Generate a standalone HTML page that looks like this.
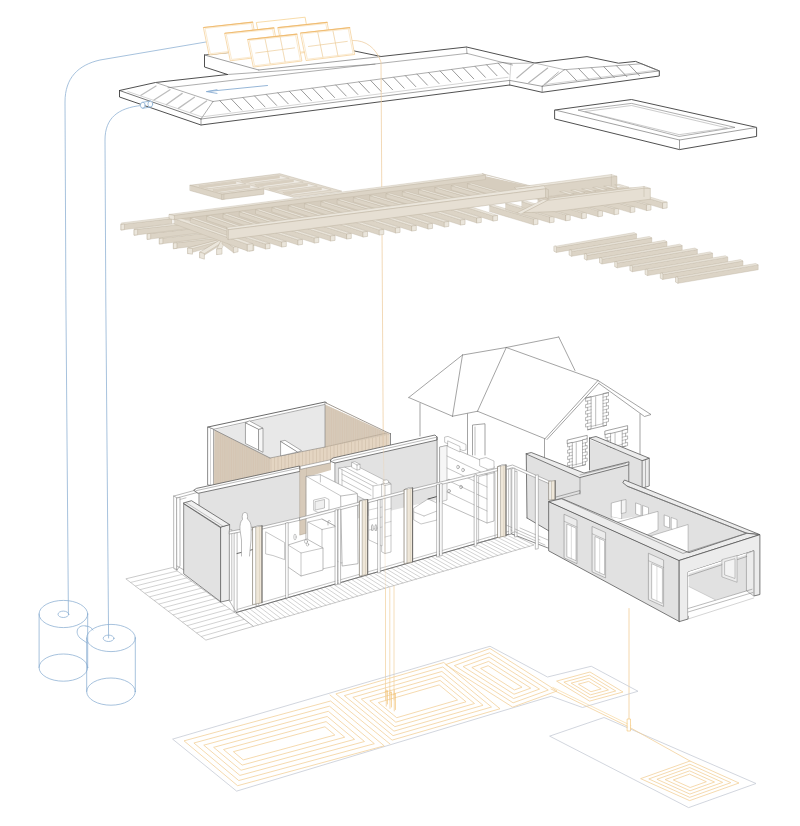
<!DOCTYPE html>
<html><head><meta charset="utf-8"><title>Exploded axonometric</title>
<style>html,body{margin:0;padding:0;background:#fff;}body{width:800px;height:826px;overflow:hidden;font-family:"Liberation Sans",sans-serif;}svg{display:block;position:absolute;left:0;top:0}</style>
</head><body>
<svg width="800" height="826" viewBox="0 0 800 826" stroke-linecap="round" stroke-linejoin="round">
<rect width="800" height="826" fill="#fff"/>
<path d="M68.4,614 L65.9,300 L65,102 C65,78 78,65 100,60 L206,42" fill="none" stroke="#8aaed2" stroke-width="0.75" />
<path d="M108.6,638 L105.8,300 L105,140 C105,118 118,108 141,105.5" fill="none" stroke="#8aaed2" stroke-width="0.75" />
<ellipse cx="63.4" cy="614" rx="24.3" ry="13.6" fill="none" stroke="#8aaed2" stroke-width="0.75"/>
<ellipse cx="63.4" cy="667.6" rx="24.3" ry="13.6" fill="none" stroke="#8aaed2" stroke-width="0.75"/>
<line x1="39.1" y1="614" x2="39.1" y2="667.6" stroke="#8aaed2" stroke-width="0.75" />
<line x1="87.7" y1="614" x2="87.7" y2="667.6" stroke="#8aaed2" stroke-width="0.75" />
<ellipse cx="63.4" cy="614.3" rx="5.4" ry="3.2" fill="none" stroke="#8aaed2" stroke-width="0.75"/>
<path d="M86,626 C78,624 74,632 80,638 L87,643" fill="none" stroke="#8aaed2" stroke-width="0.75" />
<path d="M86,626 C89,626 92,628 93,630" fill="none" stroke="#8aaed2" stroke-width="0.75" />
<ellipse cx="111" cy="638" rx="24.3" ry="13.6" fill="none" stroke="#8aaed2" stroke-width="0.75"/>
<ellipse cx="111" cy="691.6" rx="24.3" ry="13.6" fill="none" stroke="#8aaed2" stroke-width="0.75"/>
<line x1="86.7" y1="638" x2="86.7" y2="691.6" stroke="#8aaed2" stroke-width="0.75" />
<line x1="135.3" y1="638" x2="135.3" y2="691.6" stroke="#8aaed2" stroke-width="0.75" />
<ellipse cx="108.6" cy="638.3" rx="5.4" ry="3.2" fill="none" stroke="#8aaed2" stroke-width="0.75"/>
<polygon points="119.5,90.5 155.5,82.5 227.5,74.5 204.5,67 204.5,55 355,50 381,56 466.5,47 534.6,63 587,56.6 618.5,63.2 635.6,61.4 659.3,70.9 659.3,76 542.2,92.3 509.7,85 201,125 119.5,97" fill="#fff" stroke="none" stroke-width="0" />
<polyline points="352,50.5 381,56.5 466.5,47 534.6,63" fill="none" stroke="#3c3c3c" stroke-width="0.9" />
<polyline points="227.5,74.5 204.5,67 204.5,55" fill="none" stroke="#3c3c3c" stroke-width="0.9" />
<line x1="204.5" y1="55" x2="228" y2="52.6" stroke="#3c3c3c" stroke-width="0.8" />
<line x1="204.5" y1="55" x2="258.75" y2="70" stroke="#777" stroke-width="0.7" />
<line x1="258.75" y1="70" x2="381" y2="56.6" stroke="#777" stroke-width="0.7" />
<line x1="466.5" y1="47" x2="467" y2="53.4" stroke="#777" stroke-width="0.6" />
<line x1="467" y1="53.4" x2="512.5" y2="65" stroke="#777" stroke-width="0.6" />
<line x1="227.5" y1="74.5" x2="375" y2="64.2" stroke="#777" stroke-width="0.6" />
<polyline points="119.5,90.5 155.5,82.5 227.5,74.5" fill="none" stroke="#3c3c3c" stroke-width="0.9" />
<polyline points="119.5,90.5 119.5,97 201,125 509.7,85" fill="none" stroke="#3c3c3c" stroke-width="0.9" />
<line x1="119.5" y1="90.5" x2="201" y2="119" stroke="#3c3c3c" stroke-width="0.7" />
<line x1="201" y1="119" x2="201" y2="125" stroke="#777" stroke-width="0.7" />
<line x1="201" y1="119" x2="509.7" y2="80.4" stroke="#777" stroke-width="0.7" />
<polyline points="509.7,85 542.2,92.3 659.3,76 659.3,70.9 635.6,61.4 618.5,63.2 587,56.6 534.6,63" fill="none" stroke="#3c3c3c" stroke-width="0.9" />
<line x1="509.7" y1="80.4" x2="509.7" y2="85" stroke="#777" stroke-width="0.7" />
<line x1="542.2" y1="86.3" x2="542.2" y2="92.3" stroke="#777" stroke-width="0.7" />
<line x1="509.7" y1="80.4" x2="542.2" y2="86.3" stroke="#777" stroke-width="0.7" />
<line x1="542.2" y1="86.3" x2="659.3" y2="70.9" stroke="#777" stroke-width="0.7" />
<line x1="201" y1="119" x2="213" y2="101.5" stroke="#777" stroke-width="0.6" />
<line x1="213" y1="101.5" x2="155.5" y2="82.5" stroke="#777" stroke-width="0.6" />
<line x1="127.8" y1="91.5" x2="201.9" y2="116.9" stroke="#aaa" stroke-width="0.5" />
<line x1="213" y1="101.5" x2="503" y2="62.5" stroke="#777" stroke-width="0.6" />
<line x1="201.9" y1="116.9" x2="508" y2="77.3" stroke="#aaa" stroke-width="0.5" />
<line x1="168" y1="87.75" x2="467" y2="53.4" stroke="#777" stroke-width="0.6" />
<line x1="219.7" y1="100.6" x2="230.2" y2="111.6" stroke="#8e8e8e" stroke-width="0.9" />
<line x1="231.3" y1="99.04" x2="241.8" y2="110.04" stroke="#8e8e8e" stroke-width="0.9" />
<line x1="242.9" y1="97.48" x2="253.4" y2="108.48" stroke="#8e8e8e" stroke-width="0.9" />
<line x1="254.5" y1="95.92" x2="265" y2="106.92" stroke="#8e8e8e" stroke-width="0.9" />
<line x1="266.1" y1="94.36" x2="276.6" y2="105.36" stroke="#8e8e8e" stroke-width="0.9" />
<line x1="277.7" y1="92.8" x2="288.2" y2="103.8" stroke="#8e8e8e" stroke-width="0.9" />
<line x1="289.3" y1="91.24" x2="299.8" y2="102.24" stroke="#8e8e8e" stroke-width="0.9" />
<line x1="300.9" y1="89.68" x2="311.4" y2="100.68" stroke="#8e8e8e" stroke-width="0.9" />
<line x1="312.5" y1="88.12" x2="323" y2="99.12" stroke="#8e8e8e" stroke-width="0.9" />
<line x1="324.1" y1="86.56" x2="334.6" y2="97.56" stroke="#8e8e8e" stroke-width="0.9" />
<line x1="335.7" y1="85" x2="346.2" y2="96" stroke="#8e8e8e" stroke-width="0.9" />
<line x1="347.3" y1="83.44" x2="357.8" y2="94.44" stroke="#8e8e8e" stroke-width="0.9" />
<line x1="358.9" y1="81.88" x2="369.4" y2="92.88" stroke="#8e8e8e" stroke-width="0.9" />
<line x1="370.5" y1="80.32" x2="381" y2="91.32" stroke="#8e8e8e" stroke-width="0.9" />
<line x1="382.1" y1="78.76" x2="392.6" y2="89.76" stroke="#8e8e8e" stroke-width="0.9" />
<line x1="393.7" y1="77.2" x2="404.2" y2="88.2" stroke="#8e8e8e" stroke-width="0.9" />
<line x1="405.3" y1="75.64" x2="415.8" y2="86.64" stroke="#8e8e8e" stroke-width="0.9" />
<line x1="416.9" y1="74.08" x2="427.4" y2="85.08" stroke="#8e8e8e" stroke-width="0.9" />
<line x1="428.5" y1="72.52" x2="439" y2="83.52" stroke="#8e8e8e" stroke-width="0.9" />
<line x1="440.1" y1="70.96" x2="450.6" y2="81.96" stroke="#8e8e8e" stroke-width="0.9" />
<line x1="451.7" y1="69.4" x2="462.2" y2="80.4" stroke="#8e8e8e" stroke-width="0.9" />
<line x1="463.3" y1="67.84" x2="473.8" y2="78.84" stroke="#8e8e8e" stroke-width="0.9" />
<line x1="474.9" y1="66.28" x2="485.4" y2="77.28" stroke="#8e8e8e" stroke-width="0.9" />
<line x1="486.5" y1="64.72" x2="497" y2="75.72" stroke="#8e8e8e" stroke-width="0.9" />
<line x1="498.1" y1="63.16" x2="508.6" y2="74.16" stroke="#8e8e8e" stroke-width="0.9" />
<line x1="141" y1="95.3" x2="156" y2="86" stroke="#bdbdbd" stroke-width="1.3" />
<line x1="154" y1="100" x2="170" y2="89.7" stroke="#bdbdbd" stroke-width="1.3" />
<line x1="166.25" y1="104.7" x2="182.2" y2="93.4" stroke="#bdbdbd" stroke-width="1.3" />
<line x1="178.4" y1="108.4" x2="194.4" y2="97.2" stroke="#bdbdbd" stroke-width="1.3" />
<line x1="190.6" y1="112.2" x2="206.6" y2="101" stroke="#bdbdbd" stroke-width="1.3" />
<ellipse cx="142.8" cy="105.25" rx="2.4" ry="3" fill="#fff" stroke="#8aaed2" stroke-width="0.8"/>
<ellipse cx="150.3" cy="104.1" rx="2.4" ry="3" fill="#fff" stroke="#8aaed2" stroke-width="0.8"/>
<line x1="142.8" y1="102.25" x2="150.3" y2="101.1" stroke="#8aaed2" stroke-width="0.8" />
<line x1="142.8" y1="108.25" x2="150.3" y2="107.1" stroke="#8aaed2" stroke-width="0.8" />
<line x1="503" y1="62.5" x2="511" y2="63.4" stroke="#777" stroke-width="0.6" />
<line x1="511" y1="63.4" x2="534.6" y2="63" stroke="#777" stroke-width="0.5" />
<line x1="534.6" y1="63" x2="564.3" y2="69.7" stroke="#777" stroke-width="0.5" />
<line x1="564.3" y1="69.7" x2="542.2" y2="86.3" stroke="#777" stroke-width="0.6" />
<line x1="534.6" y1="63" x2="516.8" y2="78" stroke="#b5b5b5" stroke-width="1.1" />
<line x1="547.7" y1="68" x2="528.7" y2="82.75" stroke="#b5b5b5" stroke-width="1.1" />
<line x1="558.4" y1="72" x2="544" y2="84.5" stroke="#b5b5b5" stroke-width="1.0" />
<line x1="511" y1="63.4" x2="509.7" y2="80.4" stroke="#aaa" stroke-width="0.5" />
<line x1="564.3" y1="69.7" x2="641.5" y2="63.75" stroke="#777" stroke-width="0.6" />
<line x1="641.5" y1="63.75" x2="659.3" y2="70.9" stroke="#777" stroke-width="0.6" />
<line x1="545" y1="84.5" x2="657" y2="70" stroke="#aaa" stroke-width="0.5" />
<line x1="566" y1="69.57" x2="576.5" y2="80.57" stroke="#8e8e8e" stroke-width="0.9" />
<line x1="578.6" y1="68.6" x2="589.1" y2="79.6" stroke="#8e8e8e" stroke-width="0.9" />
<line x1="591.2" y1="67.63" x2="601.7" y2="78.63" stroke="#8e8e8e" stroke-width="0.9" />
<line x1="603.8" y1="66.66" x2="614.3" y2="77.66" stroke="#8e8e8e" stroke-width="0.9" />
<line x1="616.4" y1="65.68" x2="626.9" y2="76.68" stroke="#8e8e8e" stroke-width="0.9" />
<line x1="629" y1="64.71" x2="639.5" y2="75.71" stroke="#8e8e8e" stroke-width="0.9" />
<line x1="267.5" y1="85.5" x2="206.6" y2="91.6" stroke="#8aaed2" stroke-width="0.9" />
<polyline points="217,89.7 206.6,91.6 217,93.4" fill="none" stroke="#8aaed2" stroke-width="0.9" />
<polygon points="555,110 631.5,99.5 756.6,127.4 756.6,136.4 679.5,149.6 555,119" fill="#fff" stroke="#3c3c3c" stroke-width="0.9" />
<polyline points="555,110 679.5,140 756.6,127.4" fill="none" stroke="#777" stroke-width="0.7" />
<line x1="679.5" y1="140" x2="679.5" y2="149.6" stroke="#777" stroke-width="0.7" />
<polygon points="578.4,110 631.5,103.4 735,127.4 679.5,136.4" fill="none" stroke="#777" stroke-width="0.6" />
<polygon points="585,111.5 631.5,105.5 727.5,128 679.5,134.6" fill="none" stroke="#aaa" stroke-width="0.6" />
<polyline points="262,49 256.25,22.5 305.1,17.2 306.5,25" fill="none" stroke="#f6d394" stroke-width="0.8" />
<polygon points="203.75,27.5 252.65,22.2 257.65,49 209.45,55" fill="#fff" stroke="#f5d29c" stroke-width="0.8" />
<line x1="203.75" y1="27.5" x2="252.65" y2="22.2" stroke="#f0bd74" stroke-width="1.2" />
<polygon points="205.38,28.37 251.34,23.5 256.04,48.15 210.74,53.67" fill="none" stroke="#f7dcb0" stroke-width="0.6" />
<polygon points="278.2,27.6 327.1,22.3 332.1,49.1 283.9,55.1" fill="#fff" stroke="#f5d29c" stroke-width="0.8" />
<line x1="278.2" y1="27.6" x2="327.1" y2="22.3" stroke="#f0bd74" stroke-width="1.2" />
<polygon points="279.83,28.47 325.79,23.6 330.49,48.25 285.19,53.77" fill="none" stroke="#f7dcb0" stroke-width="0.6" />
<polygon points="225,33.25 273.9,27.95 278.9,54.75 230.7,60.75" fill="#fff" stroke="#f5d29c" stroke-width="0.8" />
<line x1="225" y1="33.25" x2="273.9" y2="27.95" stroke="#f0bd74" stroke-width="1.2" />
<polygon points="226.63,34.12 272.59,29.25 277.29,53.9 231.99,59.42" fill="none" stroke="#f7dcb0" stroke-width="0.6" />
<polygon points="248,39.5 296.9,34.2 301.9,61 253.7,67" fill="#fff" stroke="#f5d29c" stroke-width="0.8" />
<line x1="248" y1="39.5" x2="296.9" y2="34.2" stroke="#f0bd74" stroke-width="1.2" />
<polygon points="249.63,40.37 295.59,35.5 300.29,60.15 254.99,65.67" fill="none" stroke="#f7dcb0" stroke-width="0.6" />
<line x1="265.06" y1="39" x2="270.14" y2="63.54" stroke="#eccb98" stroke-width="0.7" />
<line x1="280.22" y1="37.41" x2="285.08" y2="61.74" stroke="#eccb98" stroke-width="0.7" />
<line x1="255.71" y1="52.97" x2="294.54" y2="47.88" stroke="#eccb98" stroke-width="0.7" />
<polygon points="300.75,33 349.65,27.7 354.65,54.5 306.45,60.5" fill="#fff" stroke="#f5d29c" stroke-width="0.8" />
<line x1="300.75" y1="33" x2="349.65" y2="27.7" stroke="#f0bd74" stroke-width="1.2" />
<polygon points="302.38,33.87 348.34,29 353.04,53.65 307.74,59.17" fill="none" stroke="#f7dcb0" stroke-width="0.6" />
<line x1="317.81" y1="32.5" x2="322.89" y2="57.04" stroke="#eccb98" stroke-width="0.7" />
<line x1="332.97" y1="30.91" x2="337.83" y2="55.24" stroke="#eccb98" stroke-width="0.7" />
<line x1="308.46" y1="46.47" x2="347.29" y2="41.38" stroke="#eccb98" stroke-width="0.7" />
<path d="M352.5,40.5 C366,40 376,48 381,62 L383.2,432" fill="none" stroke="#efcfa4" stroke-width="0.8" />
<polygon points="190.25,185.25 279.75,173.7 341.75,191.17 293.75,197.36 263.75,188.91 222.25,194.26" fill="#e4ddd1" stroke="#bfb5a3" stroke-width="0.5" />
<polygon points="190.25,185.25 222.25,194.26 222.25,199.56 190.25,190.55" fill="#dcd4c6" stroke="#bfb5a3" stroke-width="0.5" />
<polygon points="222.25,194.26 263.75,188.91 263.75,194.21 222.25,199.56" fill="#ddd5c7" stroke="#bfb5a3" stroke-width="0.5" />
<line x1="223.85" y1="194.46" x2="223.85" y2="199.56" stroke="#bfb5a3" stroke-width="0.5" />
<polygon points="199.25,185.94 236.25,181.16 245.75,183.84 208.75,188.61" fill="#efebe4" stroke="#bfb5a3" stroke-width="0.4" />
<polygon points="199.25,185.94 236.25,181.16 236.25,183.76 200.25,188.54" fill="#d8cfc0" stroke="none" stroke-width="0" />
<polygon points="199.25,185.94 200.75,186.24 210.25,188.61 208.75,188.61" fill="#dcd4c6" stroke="none" stroke-width="0" />
<polygon points="213.25,189.88 250.25,185.11 259.25,187.64 222.25,192.42" fill="#efebe4" stroke="#bfb5a3" stroke-width="0.4" />
<polygon points="213.25,189.88 250.25,185.11 250.25,187.71 214.25,192.48" fill="#d8cfc0" stroke="none" stroke-width="0" />
<polygon points="213.25,189.88 214.75,190.18 223.75,192.42 222.25,192.42" fill="#dcd4c6" stroke="none" stroke-width="0" />
<polygon points="241.25,180.52 279.75,175.55 289.25,178.23 250.75,183.2" fill="#efebe4" stroke="#bfb5a3" stroke-width="0.4" />
<polygon points="241.25,180.52 279.75,175.55 279.75,178.15 242.25,183.12" fill="#d8cfc0" stroke="none" stroke-width="0" />
<polygon points="241.25,180.52 242.75,180.82 252.25,183.2 250.75,183.2" fill="#dcd4c6" stroke="none" stroke-width="0" />
<polygon points="255.25,184.46 293.75,179.5 303.25,182.17 264.75,187.14" fill="#efebe4" stroke="#bfb5a3" stroke-width="0.4" />
<polygon points="255.25,184.46 293.75,179.5 293.75,182.1 256.25,187.06" fill="#d8cfc0" stroke="none" stroke-width="0" />
<polygon points="255.25,184.46 256.75,184.76 266.25,187.14 264.75,187.14" fill="#dcd4c6" stroke="none" stroke-width="0" />
<polygon points="269.25,188.41 307.75,183.44 317.25,186.12 278.75,191.08" fill="#efebe4" stroke="#bfb5a3" stroke-width="0.4" />
<polygon points="269.25,188.41 307.75,183.44 307.75,186.04 270.25,191.01" fill="#d8cfc0" stroke="none" stroke-width="0" />
<polygon points="269.25,188.41 270.75,188.71 280.25,191.08 278.75,191.08" fill="#dcd4c6" stroke="none" stroke-width="0" />
<polygon points="283.25,192.35 321.75,187.38 331.25,190.06 292.75,195.03" fill="#efebe4" stroke="#bfb5a3" stroke-width="0.4" />
<polygon points="283.25,192.35 321.75,187.38 321.75,189.98 284.25,194.95" fill="#d8cfc0" stroke="none" stroke-width="0" />
<polygon points="283.25,192.35 284.75,192.65 294.25,195.03 292.75,195.03" fill="#dcd4c6" stroke="none" stroke-width="0" />
<polygon points="170,216 482.5,175.5 546,190 229,231" fill="#d6cdbe" stroke="none" stroke-width="0" />
<polygon points="209.5,233.2 249.5,246 249.5,251 209.5,238.2" fill="#dcd4c6" stroke="#bfb5a3" stroke-width="0.4" />
<polygon points="209.5,233.2 249.5,246 253.8,245.4 213.8,232.6" fill="#ebe6dc" stroke="#bfb5a3" stroke-width="0.4" />
<polygon points="249.5,246 253.8,245.4 253.8,250.4 249.5,251" fill="#ebe6dc" stroke="#bfb5a3" stroke-width="0.5" />
<polygon points="225.75,231.2 265.75,244 265.75,249 225.75,236.2" fill="#dcd4c6" stroke="#bfb5a3" stroke-width="0.4" />
<polygon points="225.75,231.2 265.75,244 270.05,243.4 230.05,230.6" fill="#ebe6dc" stroke="#bfb5a3" stroke-width="0.4" />
<polygon points="265.75,244 270.05,243.4 270.05,248.4 265.75,249" fill="#ebe6dc" stroke="#bfb5a3" stroke-width="0.5" />
<polygon points="242,229.2 282,242 282,247 242,234.2" fill="#dcd4c6" stroke="#bfb5a3" stroke-width="0.4" />
<polygon points="242,229.2 282,242 286.3,241.4 246.3,228.6" fill="#ebe6dc" stroke="#bfb5a3" stroke-width="0.4" />
<polygon points="282,242 286.3,241.4 286.3,246.4 282,247" fill="#ebe6dc" stroke="#bfb5a3" stroke-width="0.5" />
<polygon points="258.25,227.2 298.25,240 298.25,245 258.25,232.2" fill="#dcd4c6" stroke="#bfb5a3" stroke-width="0.4" />
<polygon points="258.25,227.2 298.25,240 302.55,239.4 262.55,226.6" fill="#ebe6dc" stroke="#bfb5a3" stroke-width="0.4" />
<polygon points="298.25,240 302.55,239.4 302.55,244.4 298.25,245" fill="#ebe6dc" stroke="#bfb5a3" stroke-width="0.5" />
<polygon points="274.5,225.2 314.5,238 314.5,243 274.5,230.2" fill="#dcd4c6" stroke="#bfb5a3" stroke-width="0.4" />
<polygon points="274.5,225.2 314.5,238 318.8,237.4 278.8,224.6" fill="#ebe6dc" stroke="#bfb5a3" stroke-width="0.4" />
<polygon points="314.5,238 318.8,237.4 318.8,242.4 314.5,243" fill="#ebe6dc" stroke="#bfb5a3" stroke-width="0.5" />
<polygon points="290.75,223.2 330.75,236 330.75,241 290.75,228.2" fill="#dcd4c6" stroke="#bfb5a3" stroke-width="0.4" />
<polygon points="290.75,223.2 330.75,236 335.05,235.4 295.05,222.6" fill="#ebe6dc" stroke="#bfb5a3" stroke-width="0.4" />
<polygon points="330.75,236 335.05,235.4 335.05,240.4 330.75,241" fill="#ebe6dc" stroke="#bfb5a3" stroke-width="0.5" />
<polygon points="307,221.2 347,234 347,239 307,226.2" fill="#dcd4c6" stroke="#bfb5a3" stroke-width="0.4" />
<polygon points="307,221.2 347,234 351.3,233.4 311.3,220.6" fill="#ebe6dc" stroke="#bfb5a3" stroke-width="0.4" />
<polygon points="347,234 351.3,233.4 351.3,238.4 347,239" fill="#ebe6dc" stroke="#bfb5a3" stroke-width="0.5" />
<polygon points="323.25,219.2 363.25,232 363.25,237 323.25,224.2" fill="#dcd4c6" stroke="#bfb5a3" stroke-width="0.4" />
<polygon points="323.25,219.2 363.25,232 367.55,231.4 327.55,218.6" fill="#ebe6dc" stroke="#bfb5a3" stroke-width="0.4" />
<polygon points="363.25,232 367.55,231.4 367.55,236.4 363.25,237" fill="#ebe6dc" stroke="#bfb5a3" stroke-width="0.5" />
<polygon points="339.5,217.2 379.5,230 379.5,235 339.5,222.2" fill="#dcd4c6" stroke="#bfb5a3" stroke-width="0.4" />
<polygon points="339.5,217.2 379.5,230 383.8,229.4 343.8,216.6" fill="#ebe6dc" stroke="#bfb5a3" stroke-width="0.4" />
<polygon points="379.5,230 383.8,229.4 383.8,234.4 379.5,235" fill="#ebe6dc" stroke="#bfb5a3" stroke-width="0.5" />
<polygon points="355.75,215.2 395.75,228 395.75,233 355.75,220.2" fill="#dcd4c6" stroke="#bfb5a3" stroke-width="0.4" />
<polygon points="355.75,215.2 395.75,228 400.05,227.4 360.05,214.6" fill="#ebe6dc" stroke="#bfb5a3" stroke-width="0.4" />
<polygon points="395.75,228 400.05,227.4 400.05,232.4 395.75,233" fill="#ebe6dc" stroke="#bfb5a3" stroke-width="0.5" />
<polygon points="372,213.2 412,226 412,231 372,218.2" fill="#dcd4c6" stroke="#bfb5a3" stroke-width="0.4" />
<polygon points="372,213.2 412,226 416.3,225.4 376.3,212.6" fill="#ebe6dc" stroke="#bfb5a3" stroke-width="0.4" />
<polygon points="412,226 416.3,225.4 416.3,230.4 412,231" fill="#ebe6dc" stroke="#bfb5a3" stroke-width="0.5" />
<polygon points="388.25,211.2 428.25,224 428.25,229 388.25,216.2" fill="#dcd4c6" stroke="#bfb5a3" stroke-width="0.4" />
<polygon points="388.25,211.2 428.25,224 432.55,223.4 392.55,210.6" fill="#ebe6dc" stroke="#bfb5a3" stroke-width="0.4" />
<polygon points="428.25,224 432.55,223.4 432.55,228.4 428.25,229" fill="#ebe6dc" stroke="#bfb5a3" stroke-width="0.5" />
<polygon points="404.5,209.2 444.5,222 444.5,227 404.5,214.2" fill="#dcd4c6" stroke="#bfb5a3" stroke-width="0.4" />
<polygon points="404.5,209.2 444.5,222 448.8,221.4 408.8,208.6" fill="#ebe6dc" stroke="#bfb5a3" stroke-width="0.4" />
<polygon points="444.5,222 448.8,221.4 448.8,226.4 444.5,227" fill="#ebe6dc" stroke="#bfb5a3" stroke-width="0.5" />
<polygon points="420.75,207.2 460.75,220 460.75,225 420.75,212.2" fill="#dcd4c6" stroke="#bfb5a3" stroke-width="0.4" />
<polygon points="420.75,207.2 460.75,220 465.05,219.4 425.05,206.6" fill="#ebe6dc" stroke="#bfb5a3" stroke-width="0.4" />
<polygon points="460.75,220 465.05,219.4 465.05,224.4 460.75,225" fill="#ebe6dc" stroke="#bfb5a3" stroke-width="0.5" />
<polygon points="437,205.2 477,218 477,223 437,210.2" fill="#dcd4c6" stroke="#bfb5a3" stroke-width="0.4" />
<polygon points="437,205.2 477,218 481.3,217.4 441.3,204.6" fill="#ebe6dc" stroke="#bfb5a3" stroke-width="0.4" />
<polygon points="477,218 481.3,217.4 481.3,222.4 477,223" fill="#ebe6dc" stroke="#bfb5a3" stroke-width="0.5" />
<polygon points="453.25,203.2 493.25,216 493.25,221 453.25,208.2" fill="#dcd4c6" stroke="#bfb5a3" stroke-width="0.4" />
<polygon points="453.25,203.2 493.25,216 497.55,215.4 457.55,202.6" fill="#ebe6dc" stroke="#bfb5a3" stroke-width="0.4" />
<polygon points="493.25,216 497.55,215.4 497.55,220.4 493.25,221" fill="#ebe6dc" stroke="#bfb5a3" stroke-width="0.5" />
<polygon points="173.75,243.1 224,237.5 224,242.5 173.75,248.7" fill="#dcd4c6" stroke="#bfb5a3" stroke-width="0.4" />
<polygon points="173.75,243.1 224,237.5 222,236 174.25,241.6" fill="#ebe6dc" stroke="#bfb5a3" stroke-width="0.4" />
<polygon points="173.75,243.1 176.95,242.7 176.95,248.3 173.75,248.7" fill="#ebe6dc" stroke="#bfb5a3" stroke-width="0.5" />
<polygon points="159.7,238.4 215,232.2 215,237.2 159.7,244" fill="#dcd4c6" stroke="#bfb5a3" stroke-width="0.4" />
<polygon points="159.7,238.4 215,232.2 213,230.7 160.2,236.9" fill="#ebe6dc" stroke="#bfb5a3" stroke-width="0.4" />
<polygon points="159.7,238.4 162.9,238 162.9,243.6 159.7,244" fill="#ebe6dc" stroke="#bfb5a3" stroke-width="0.5" />
<polygon points="147.5,233.75 202,227.7 202,232.7 147.5,239.35" fill="#dcd4c6" stroke="#bfb5a3" stroke-width="0.4" />
<polygon points="147.5,233.75 202,227.7 200,226.2 148,232.25" fill="#ebe6dc" stroke="#bfb5a3" stroke-width="0.4" />
<polygon points="147.5,233.75 150.7,233.35 150.7,238.95 147.5,239.35" fill="#ebe6dc" stroke="#bfb5a3" stroke-width="0.5" />
<polygon points="134.4,229.6 190,223.4 190,228.4 134.4,235.2" fill="#dcd4c6" stroke="#bfb5a3" stroke-width="0.4" />
<polygon points="134.4,229.6 190,223.4 188,221.9 134.9,228.1" fill="#ebe6dc" stroke="#bfb5a3" stroke-width="0.4" />
<polygon points="134.4,229.6 137.6,229.2 137.6,234.8 134.4,235.2" fill="#ebe6dc" stroke="#bfb5a3" stroke-width="0.5" />
<polygon points="121.25,224.4 172,218.6 172,223.6 121.25,230" fill="#dcd4c6" stroke="#bfb5a3" stroke-width="0.4" />
<polygon points="121.25,224.4 172,218.6 170,217.1 121.75,222.9" fill="#ebe6dc" stroke="#bfb5a3" stroke-width="0.4" />
<polygon points="121.25,224.4 124.45,224 124.45,229.6 121.25,230" fill="#ebe6dc" stroke="#bfb5a3" stroke-width="0.5" />
<polygon points="188,248 222,239 222,244 188,253.6" fill="#dcd4c6" stroke="#bfb5a3" stroke-width="0.4" />
<polygon points="188,248 192.5,248.6 225.6,239.6 222,239" fill="#ebe6dc" stroke="#bfb5a3" stroke-width="0.4" />
<polygon points="188,248 192.5,248.6 192.5,254.2 188,253.6" fill="#ebe6dc" stroke="#bfb5a3" stroke-width="0.5" />
<polygon points="200,252.2 222,239 222,244 200,257.8" fill="#dcd4c6" stroke="#bfb5a3" stroke-width="0.4" />
<polygon points="200,252.2 204.4,253.6 225.52,240.4 222,239" fill="#ebe6dc" stroke="#bfb5a3" stroke-width="0.4" />
<polygon points="200,252.2 204.4,253.6 204.4,259.2 200,257.8" fill="#ebe6dc" stroke="#bfb5a3" stroke-width="0.5" />
<polygon points="217,249 222,239 222,244 217,254.6" fill="#dcd4c6" stroke="#bfb5a3" stroke-width="0.4" />
<polygon points="217,249 222,248.5 226,238.5 222,239" fill="#ebe6dc" stroke="#bfb5a3" stroke-width="0.4" />
<polygon points="217,249 222,248.5 222,254.1 217,254.6" fill="#ebe6dc" stroke="#bfb5a3" stroke-width="0.5" />
<polygon points="233.75,247.2 222,239 222,244 233.75,252.8" fill="#dcd4c6" stroke="#bfb5a3" stroke-width="0.4" />
<polygon points="233.75,247.2 238.05,246.2 225.44,238 222,239" fill="#ebe6dc" stroke="#bfb5a3" stroke-width="0.4" />
<polygon points="233.75,247.2 238.05,246.2 238.05,251.8 233.75,252.8" fill="#ebe6dc" stroke="#bfb5a3" stroke-width="0.5" />
<polygon points="174.4,218.75 247.5,244.4 247.5,251 174.4,224" fill="#dcd4c6" stroke="#bfb5a3" stroke-width="0.4" />
<polygon points="174.4,218.75 247.5,244.4 253,243.8 180,218" fill="#ebe6dc" stroke="#bfb5a3" stroke-width="0.4" />
<polygon points="247.5,244.4 253,243.8 253,250.6 247.5,251.2" fill="#ebe6dc" stroke="#bfb5a3" stroke-width="0.5" />
<polygon points="169.4,214.4 482.5,173.75 485.5,175.2 174.4,215.4" fill="#ebe6dc" stroke="#bfb5a3" stroke-width="0.4" />
<polygon points="174.4,215.4 485.5,175.2 485.5,179.5 174.4,219.6" fill="#dcd4c6" stroke="#bfb5a3" stroke-width="0.4" />
<polygon points="169.4,214.4 174.4,215.4 174.4,219.8 169.4,218.75" fill="#ebe6dc" stroke="#bfb5a3" stroke-width="0.5" />
<polygon points="190.7,218.3 228,231.33 228,235.63 190.7,222.6" fill="#dcd4c6" stroke="#bfb5a3" stroke-width="0.4" />
<polygon points="190.7,218.3 228,231.33 231.6,230.83 194.3,217.8" fill="#ebe6dc" stroke="#bfb5a3" stroke-width="0.4" />
<polygon points="207,216.15 238.35,226.95 238.35,231.25 207,220.45" fill="#dcd4c6" stroke="#bfb5a3" stroke-width="0.4" />
<polygon points="207,216.15 238.35,226.95 241.95,226.45 210.6,215.65" fill="#ebe6dc" stroke="#bfb5a3" stroke-width="0.4" />
<polygon points="223.3,214 255.08,224.79 255.08,229.09 223.3,218.3" fill="#dcd4c6" stroke="#bfb5a3" stroke-width="0.4" />
<polygon points="223.3,214 255.08,224.79 258.68,224.29 226.9,213.5" fill="#ebe6dc" stroke="#bfb5a3" stroke-width="0.4" />
<polygon points="239.6,211.85 271.81,222.63 271.81,226.93 239.6,216.15" fill="#dcd4c6" stroke="#bfb5a3" stroke-width="0.4" />
<polygon points="239.6,211.85 271.81,222.63 275.41,222.13 243.2,211.35" fill="#ebe6dc" stroke="#bfb5a3" stroke-width="0.4" />
<polygon points="255.9,209.7 288.56,220.47 288.56,224.77 255.9,214" fill="#dcd4c6" stroke="#bfb5a3" stroke-width="0.4" />
<polygon points="255.9,209.7 288.56,220.47 292.16,219.97 259.5,209.2" fill="#ebe6dc" stroke="#bfb5a3" stroke-width="0.4" />
<polygon points="272.2,207.7 304.98,218.35 304.98,222.65 272.2,212" fill="#dcd4c6" stroke="#bfb5a3" stroke-width="0.4" />
<polygon points="272.2,207.7 304.98,218.35 308.58,217.85 275.8,207.2" fill="#ebe6dc" stroke="#bfb5a3" stroke-width="0.4" />
<polygon points="288.5,205.7 321.41,216.23 321.41,220.53 288.5,210" fill="#dcd4c6" stroke="#bfb5a3" stroke-width="0.4" />
<polygon points="288.5,205.7 321.41,216.23 325.01,215.73 292.1,205.2" fill="#ebe6dc" stroke="#bfb5a3" stroke-width="0.4" />
<polygon points="304.8,203.7 337.84,214.11 337.84,218.41 304.8,208" fill="#dcd4c6" stroke="#bfb5a3" stroke-width="0.4" />
<polygon points="304.8,203.7 337.84,214.11 341.44,213.61 308.4,203.2" fill="#ebe6dc" stroke="#bfb5a3" stroke-width="0.4" />
<polygon points="321.1,201.7 354.28,211.99 354.28,216.29 321.1,206" fill="#dcd4c6" stroke="#bfb5a3" stroke-width="0.4" />
<polygon points="321.1,201.7 354.28,211.99 357.88,211.49 324.7,201.2" fill="#ebe6dc" stroke="#bfb5a3" stroke-width="0.4" />
<polygon points="337.4,199.7 370.71,209.87 370.71,214.17 337.4,204" fill="#dcd4c6" stroke="#bfb5a3" stroke-width="0.4" />
<polygon points="337.4,199.7 370.71,209.87 374.31,209.37 341,199.2" fill="#ebe6dc" stroke="#bfb5a3" stroke-width="0.4" />
<polygon points="353.7,197.7 387.16,207.75 387.16,212.05 353.7,202" fill="#dcd4c6" stroke="#bfb5a3" stroke-width="0.4" />
<polygon points="353.7,197.7 387.16,207.75 390.76,207.25 357.3,197.2" fill="#ebe6dc" stroke="#bfb5a3" stroke-width="0.4" />
<polygon points="370,195.7 403.6,205.63 403.6,209.93 370,200" fill="#dcd4c6" stroke="#bfb5a3" stroke-width="0.4" />
<polygon points="370,195.7 403.6,205.63 407.2,205.13 373.6,195.2" fill="#ebe6dc" stroke="#bfb5a3" stroke-width="0.4" />
<polygon points="386.3,193.7 420.05,203.51 420.05,207.81 386.3,198" fill="#dcd4c6" stroke="#bfb5a3" stroke-width="0.4" />
<polygon points="386.3,193.7 420.05,203.51 423.65,203.01 389.9,193.2" fill="#ebe6dc" stroke="#bfb5a3" stroke-width="0.4" />
<polygon points="402.6,191.7 436.15,201.43 436.15,205.73 402.6,196" fill="#dcd4c6" stroke="#bfb5a3" stroke-width="0.4" />
<polygon points="402.6,191.7 436.15,201.43 439.75,200.93 406.2,191.2" fill="#ebe6dc" stroke="#bfb5a3" stroke-width="0.4" />
<polygon points="418.9,189.7 452.21,199.36 452.21,203.66 418.9,194" fill="#dcd4c6" stroke="#bfb5a3" stroke-width="0.4" />
<polygon points="418.9,189.7 452.21,199.36 455.81,198.86 422.5,189.2" fill="#ebe6dc" stroke="#bfb5a3" stroke-width="0.4" />
<polygon points="435.2,187.7 468.26,197.29 468.26,201.59 435.2,192" fill="#dcd4c6" stroke="#bfb5a3" stroke-width="0.4" />
<polygon points="435.2,187.7 468.26,197.29 471.86,196.79 438.8,187.2" fill="#ebe6dc" stroke="#bfb5a3" stroke-width="0.4" />
<polygon points="451.5,185.7 484.32,195.22 484.32,199.52 451.5,190" fill="#dcd4c6" stroke="#bfb5a3" stroke-width="0.4" />
<polygon points="451.5,185.7 484.32,195.22 487.92,194.72 455.1,185.2" fill="#ebe6dc" stroke="#bfb5a3" stroke-width="0.4" />
<polygon points="467.8,183.7 500.37,193.15 500.37,197.45 467.8,188" fill="#dcd4c6" stroke="#bfb5a3" stroke-width="0.4" />
<polygon points="467.8,183.7 500.37,193.15 503.97,192.65 471.4,183.2" fill="#ebe6dc" stroke="#bfb5a3" stroke-width="0.4" />
<polygon points="482.5,173.75 486,175 548,190 544,190" fill="#ebe6dc" stroke="#bfb5a3" stroke-width="0.4" />
<polygon points="530,199 612,187 646,188 548,200" fill="#d6cdbe" stroke="none" stroke-width="0" />
<polygon points="514.6,187.5 611.4,174.5 617,176.3 517,189.3" fill="#ebe6dc" stroke="#bfb5a3" stroke-width="0.4" />
<polygon points="517,189.3 617,176.3 617,187.5 517,200.5" fill="#dcd4c6" stroke="#bfb5a3" stroke-width="0.4" />
<line x1="611.4" y1="174.5" x2="611.4" y2="186" stroke="#bfb5a3" stroke-width="0.4" />
<polygon points="560,191.5 564,191 574,194 570,194.5" fill="#ebe6dc" stroke="#bfb5a3" stroke-width="0.4" />
<polygon points="571,190.15 575,189.65 585,192.65 581,193.15" fill="#ebe6dc" stroke="#bfb5a3" stroke-width="0.4" />
<polygon points="582,188.8 586,188.3 596,191.3 592,191.8" fill="#ebe6dc" stroke="#bfb5a3" stroke-width="0.4" />
<polygon points="593,187.45 597,186.95 607,189.95 603,190.45" fill="#ebe6dc" stroke="#bfb5a3" stroke-width="0.4" />
<polygon points="604,186.1 608,185.6 618,188.6 614,189.1" fill="#ebe6dc" stroke="#bfb5a3" stroke-width="0.4" />
<polygon points="615,184.75 619,184.25 629,187.25 625,187.75" fill="#ebe6dc" stroke="#bfb5a3" stroke-width="0.4" />
<polygon points="489.75,205.8 533.75,219 533.75,224.8 489.75,211.6" fill="#dcd4c6" stroke="#bfb5a3" stroke-width="0.4" />
<polygon points="489.75,205.8 533.75,219 537.95,218.4 493.95,205.2" fill="#ebe6dc" stroke="#bfb5a3" stroke-width="0.4" />
<polygon points="533.75,219 537.95,218.4 537.95,224.2 533.75,224.8" fill="#ebe6dc" stroke="#bfb5a3" stroke-width="0.5" />
<polygon points="505.9,203.77 549.9,216.97 549.9,222.77 505.9,209.57" fill="#dcd4c6" stroke="#bfb5a3" stroke-width="0.4" />
<polygon points="505.9,203.77 549.9,216.97 554.1,216.37 510.1,203.17" fill="#ebe6dc" stroke="#bfb5a3" stroke-width="0.4" />
<polygon points="549.9,216.97 554.1,216.37 554.1,222.17 549.9,222.77" fill="#ebe6dc" stroke="#bfb5a3" stroke-width="0.5" />
<polygon points="522.05,201.74 566.05,214.94 566.05,220.74 522.05,207.54" fill="#dcd4c6" stroke="#bfb5a3" stroke-width="0.4" />
<polygon points="522.05,201.74 566.05,214.94 570.25,214.34 526.25,201.14" fill="#ebe6dc" stroke="#bfb5a3" stroke-width="0.4" />
<polygon points="566.05,214.94 570.25,214.34 570.25,220.14 566.05,220.74" fill="#ebe6dc" stroke="#bfb5a3" stroke-width="0.5" />
<polygon points="538.2,199.71 582.2,212.91 582.2,218.71 538.2,205.51" fill="#dcd4c6" stroke="#bfb5a3" stroke-width="0.4" />
<polygon points="538.2,199.71 582.2,212.91 586.4,212.31 542.4,199.11" fill="#ebe6dc" stroke="#bfb5a3" stroke-width="0.4" />
<polygon points="582.2,212.91 586.4,212.31 586.4,218.11 582.2,218.71" fill="#ebe6dc" stroke="#bfb5a3" stroke-width="0.5" />
<polygon points="554.35,197.68 598.35,210.88 598.35,216.68 554.35,203.48" fill="#dcd4c6" stroke="#bfb5a3" stroke-width="0.4" />
<polygon points="554.35,197.68 598.35,210.88 602.55,210.28 558.55,197.08" fill="#ebe6dc" stroke="#bfb5a3" stroke-width="0.4" />
<polygon points="598.35,210.88 602.55,210.28 602.55,216.08 598.35,216.68" fill="#ebe6dc" stroke="#bfb5a3" stroke-width="0.5" />
<polygon points="570.5,195.65 614.5,208.85 614.5,214.65 570.5,201.45" fill="#dcd4c6" stroke="#bfb5a3" stroke-width="0.4" />
<polygon points="570.5,195.65 614.5,208.85 618.7,208.25 574.7,195.05" fill="#ebe6dc" stroke="#bfb5a3" stroke-width="0.4" />
<polygon points="614.5,208.85 618.7,208.25 618.7,214.05 614.5,214.65" fill="#ebe6dc" stroke="#bfb5a3" stroke-width="0.5" />
<polygon points="586.65,193.62 630.65,206.82 630.65,212.62 586.65,199.42" fill="#dcd4c6" stroke="#bfb5a3" stroke-width="0.4" />
<polygon points="586.65,193.62 630.65,206.82 634.85,206.22 590.85,193.02" fill="#ebe6dc" stroke="#bfb5a3" stroke-width="0.4" />
<polygon points="630.65,206.82 634.85,206.22 634.85,212.02 630.65,212.62" fill="#ebe6dc" stroke="#bfb5a3" stroke-width="0.5" />
<polygon points="616.8,195.79 646.8,204.79 646.8,210.59 616.8,201.59" fill="#dcd4c6" stroke="#bfb5a3" stroke-width="0.4" />
<polygon points="616.8,195.79 646.8,204.79 651,204.19 621,195.19" fill="#ebe6dc" stroke="#bfb5a3" stroke-width="0.4" />
<polygon points="646.8,204.79 651,204.19 651,209.99 646.8,210.59" fill="#ebe6dc" stroke="#bfb5a3" stroke-width="0.5" />
<polygon points="632.95,193.76 662.95,202.76 662.95,208.56 632.95,199.56" fill="#dcd4c6" stroke="#bfb5a3" stroke-width="0.4" />
<polygon points="632.95,193.76 662.95,202.76 667.15,202.16 637.15,193.16" fill="#ebe6dc" stroke="#bfb5a3" stroke-width="0.4" />
<polygon points="662.95,202.76 667.15,202.16 667.15,207.96 662.95,208.56" fill="#ebe6dc" stroke="#bfb5a3" stroke-width="0.5" />
<polygon points="517,213 521,214 548,200.5 544,199.5" fill="#ebe6dc" stroke="#bfb5a3" stroke-width="0.4" />
<polygon points="547.25,198.75 644,186.4 650.3,188.4 553,201" fill="#ebe6dc" stroke="#bfb5a3" stroke-width="0.4" />
<polygon points="524,212.5 547.25,200.5 644,188.2 650.3,188.4 650.3,199.2 556,211.5" fill="#e6dfd3" stroke="#bfb5a3" stroke-width="0.5" />
<line x1="644" y1="186.4" x2="644" y2="196.5" stroke="#bfb5a3" stroke-width="0.5" />
<polygon points="226.5,227.5 544,185.8 546,188.75 228.25,229.75" fill="#ebe6dc" stroke="#bfb5a3" stroke-width="0.4" />
<polygon points="228.25,229.75 546,188.75 546,197.5 228.25,239.5" fill="#e6dfd3" stroke="#bfb5a3" stroke-width="0.5" />
<polygon points="227,228.5 228.25,229.75 228.25,239.5 227,238.3" fill="#dcd4c6" stroke="#bfb5a3" stroke-width="0.4" />
<polygon points="546,188.75 548.4,189.6 548.4,198.6 546,197.5" fill="#dcd4c6" stroke="#bfb5a3" stroke-width="0.5" />
<polygon points="556.5,247.6 636.6,234 636.6,238.8 556.5,252.4" fill="#dcd4c6" stroke="#bfb5a3" stroke-width="0.4" />
<polygon points="556.5,247.6 636.6,234 634.1,232.6 556,246.2" fill="#ebe6dc" stroke="#bfb5a3" stroke-width="0.4" />
<polygon points="556,246.2 556.5,247.6 556.5,252.4 553.9,251.2 553.9,246.6" fill="#ebe6dc" stroke="#bfb5a3" stroke-width="0.5" />
<polygon points="571.7,251.46 651.8,237.86 651.8,242.66 571.7,256.26" fill="#dcd4c6" stroke="#bfb5a3" stroke-width="0.4" />
<polygon points="571.7,251.46 651.8,237.86 649.3,236.46 571.2,250.06" fill="#ebe6dc" stroke="#bfb5a3" stroke-width="0.4" />
<polygon points="571.2,250.06 571.7,251.46 571.7,256.26 569.1,255.06 569.1,250.46" fill="#ebe6dc" stroke="#bfb5a3" stroke-width="0.5" />
<polygon points="586.9,255.32 667,241.72 667,246.52 586.9,260.12" fill="#dcd4c6" stroke="#bfb5a3" stroke-width="0.4" />
<polygon points="586.9,255.32 667,241.72 664.5,240.32 586.4,253.92" fill="#ebe6dc" stroke="#bfb5a3" stroke-width="0.4" />
<polygon points="586.4,253.92 586.9,255.32 586.9,260.12 584.3,258.92 584.3,254.32" fill="#ebe6dc" stroke="#bfb5a3" stroke-width="0.5" />
<polygon points="602.1,259.18 682.2,245.58 682.2,250.38 602.1,263.98" fill="#dcd4c6" stroke="#bfb5a3" stroke-width="0.4" />
<polygon points="602.1,259.18 682.2,245.58 679.7,244.18 601.6,257.78" fill="#ebe6dc" stroke="#bfb5a3" stroke-width="0.4" />
<polygon points="601.6,257.78 602.1,259.18 602.1,263.98 599.5,262.78 599.5,258.18" fill="#ebe6dc" stroke="#bfb5a3" stroke-width="0.5" />
<polygon points="617.3,263.04 697.4,249.44 697.4,254.24 617.3,267.84" fill="#dcd4c6" stroke="#bfb5a3" stroke-width="0.4" />
<polygon points="617.3,263.04 697.4,249.44 694.9,248.04 616.8,261.64" fill="#ebe6dc" stroke="#bfb5a3" stroke-width="0.4" />
<polygon points="616.8,261.64 617.3,263.04 617.3,267.84 614.7,266.64 614.7,262.04" fill="#ebe6dc" stroke="#bfb5a3" stroke-width="0.5" />
<polygon points="632.5,266.9 712.6,253.3 712.6,258.1 632.5,271.7" fill="#dcd4c6" stroke="#bfb5a3" stroke-width="0.4" />
<polygon points="632.5,266.9 712.6,253.3 710.1,251.9 632,265.5" fill="#ebe6dc" stroke="#bfb5a3" stroke-width="0.4" />
<polygon points="632,265.5 632.5,266.9 632.5,271.7 629.9,270.5 629.9,265.9" fill="#ebe6dc" stroke="#bfb5a3" stroke-width="0.5" />
<polygon points="647.7,270.76 727.8,257.16 727.8,261.96 647.7,275.56" fill="#dcd4c6" stroke="#bfb5a3" stroke-width="0.4" />
<polygon points="647.7,270.76 727.8,257.16 725.3,255.76 647.2,269.36" fill="#ebe6dc" stroke="#bfb5a3" stroke-width="0.4" />
<polygon points="647.2,269.36 647.7,270.76 647.7,275.56 645.1,274.36 645.1,269.76" fill="#ebe6dc" stroke="#bfb5a3" stroke-width="0.5" />
<polygon points="662.9,274.62 743,261.02 743,265.82 662.9,279.42" fill="#dcd4c6" stroke="#bfb5a3" stroke-width="0.4" />
<polygon points="662.9,274.62 743,261.02 740.5,259.62 662.4,273.22" fill="#ebe6dc" stroke="#bfb5a3" stroke-width="0.4" />
<polygon points="662.4,273.22 662.9,274.62 662.9,279.42 660.3,278.22 660.3,273.62" fill="#ebe6dc" stroke="#bfb5a3" stroke-width="0.5" />
<polygon points="678.1,278.48 758.2,264.88 758.2,269.68 678.1,283.28" fill="#dcd4c6" stroke="#bfb5a3" stroke-width="0.4" />
<polygon points="678.1,278.48 758.2,264.88 755.7,263.48 677.6,277.08" fill="#ebe6dc" stroke="#bfb5a3" stroke-width="0.4" />
<polygon points="677.6,277.08 678.1,278.48 678.1,283.28 675.5,282.08 675.5,277.48" fill="#ebe6dc" stroke="#bfb5a3" stroke-width="0.5" />
<line x1="408.75" y1="397.5" x2="462.5" y2="355" stroke="#7c7c7c" stroke-width="0.7" />
<line x1="462.5" y1="355" x2="506.25" y2="347.5" stroke="#7c7c7c" stroke-width="0.7" />
<line x1="506.25" y1="347.5" x2="558.75" y2="337" stroke="#7c7c7c" stroke-width="0.7" />
<line x1="558.75" y1="337" x2="575" y2="370.5" stroke="#7c7c7c" stroke-width="0.7" />
<line x1="506.25" y1="347.5" x2="598" y2="380.5" stroke="#7c7c7c" stroke-width="0.7" />
<line x1="462.5" y1="355" x2="452.5" y2="416.25" stroke="#7c7c7c" stroke-width="0.7" />
<line x1="408.75" y1="397.5" x2="452.5" y2="416.25" stroke="#7c7c7c" stroke-width="0.7" />
<line x1="452.5" y1="416.25" x2="477.5" y2="411.25" stroke="#7c7c7c" stroke-width="0.7" />
<line x1="506.25" y1="347.5" x2="477.5" y2="411.25" stroke="#7c7c7c" stroke-width="0.7" />
<line x1="477.5" y1="411.25" x2="545" y2="438.75" stroke="#7c7c7c" stroke-width="0.7" />
<line x1="545" y1="438.75" x2="598" y2="380.5" stroke="#7c7c7c" stroke-width="0.7" />
<line x1="547" y1="439.5" x2="599" y2="383" stroke="#7c7c7c" stroke-width="0.7" />
<polyline points="598,380.5 651,414.5 644.5,416.5 599,383.5" fill="none" stroke="#7c7c7c" stroke-width="0.7" />
<line x1="640" y1="414" x2="640" y2="456" stroke="#7c7c7c" stroke-width="0.7" />
<line x1="420" y1="403.5" x2="420" y2="436" stroke="#7c7c7c" stroke-width="0.7" />
<line x1="467.5" y1="413.75" x2="467.5" y2="455" stroke="#7c7c7c" stroke-width="0.7" />
<polyline points="472.5,455 472.5,425 485,423.75 485,455" fill="none" stroke="#7c7c7c" stroke-width="0.7" />
<line x1="475" y1="455" x2="475" y2="427" stroke="#7c7c7c" stroke-width="0.5" />
<line x1="544.5" y1="439.25" x2="544.5" y2="458" stroke="#7c7c7c" stroke-width="0.7" />
<polygon points="585.6,398.2 585.6,401.41 587.66,400.92 587.66,404.13 585.6,404.62 585.6,407.83 587.66,407.34 587.66,410.55 585.6,411.04 585.6,414.25 587.66,413.76 587.66,416.97 585.6,417.46 585.6,420.67 587.66,420.18 587.66,423.39 585.6,423.88 585.6,427.09 587.66,426.6 587.66,429.81 591.1,428.98 591.1,396.88" fill="#fff" stroke="#7c7c7c" stroke-width="0.55" />
<line x1="587.66" y1="400.92" x2="591.1" y2="400.09" stroke="#7c7c7c" stroke-width="0.45" />
<line x1="587.66" y1="404.13" x2="591.1" y2="403.3" stroke="#7c7c7c" stroke-width="0.45" />
<line x1="587.66" y1="407.34" x2="591.1" y2="406.51" stroke="#7c7c7c" stroke-width="0.45" />
<line x1="587.66" y1="410.55" x2="591.1" y2="409.72" stroke="#7c7c7c" stroke-width="0.45" />
<line x1="587.66" y1="413.76" x2="591.1" y2="412.93" stroke="#7c7c7c" stroke-width="0.45" />
<line x1="587.66" y1="416.97" x2="591.1" y2="416.14" stroke="#7c7c7c" stroke-width="0.45" />
<line x1="587.66" y1="420.18" x2="591.1" y2="419.35" stroke="#7c7c7c" stroke-width="0.45" />
<line x1="587.66" y1="423.39" x2="591.1" y2="422.56" stroke="#7c7c7c" stroke-width="0.45" />
<line x1="587.66" y1="426.6" x2="591.1" y2="425.77" stroke="#7c7c7c" stroke-width="0.45" />
<polygon points="608.5,392.7 608.5,395.91 606.44,396.41 606.44,399.62 608.5,399.12 608.5,402.33 606.44,402.83 606.44,406.04 608.5,405.54 608.5,408.75 606.44,409.25 606.44,412.46 608.5,411.96 608.5,415.17 606.44,415.67 606.44,418.88 608.5,418.38 608.5,421.59 606.44,422.09 606.44,425.3 603,426.12 603,394.02" fill="#fff" stroke="#7c7c7c" stroke-width="0.55" />
<line x1="606.44" y1="396.41" x2="603" y2="397.23" stroke="#7c7c7c" stroke-width="0.45" />
<line x1="606.44" y1="399.62" x2="603" y2="400.44" stroke="#7c7c7c" stroke-width="0.45" />
<line x1="606.44" y1="402.83" x2="603" y2="403.65" stroke="#7c7c7c" stroke-width="0.45" />
<line x1="606.44" y1="406.04" x2="603" y2="406.86" stroke="#7c7c7c" stroke-width="0.45" />
<line x1="606.44" y1="409.25" x2="603" y2="410.07" stroke="#7c7c7c" stroke-width="0.45" />
<line x1="606.44" y1="412.46" x2="603" y2="413.28" stroke="#7c7c7c" stroke-width="0.45" />
<line x1="606.44" y1="415.67" x2="603" y2="416.49" stroke="#7c7c7c" stroke-width="0.45" />
<line x1="606.44" y1="418.88" x2="603" y2="419.7" stroke="#7c7c7c" stroke-width="0.45" />
<line x1="606.44" y1="422.09" x2="603" y2="422.91" stroke="#7c7c7c" stroke-width="0.45" />
<line x1="585.6" y1="398.2" x2="608.5" y2="392.7" stroke="#7c7c7c" stroke-width="0.7" />
<line x1="587.66" y1="429.81" x2="606.44" y2="425.3" stroke="#7c7c7c" stroke-width="0.7" />
<line x1="595.68" y1="396.78" x2="595.68" y2="425.88" stroke="#7c7c7c" stroke-width="0.5" />
<line x1="591.1" y1="426.48" x2="603" y2="423.62" stroke="#7c7c7c" stroke-width="0.45" />
<polygon points="567.6,440 587.2,435.3 587.2,439.1 567.6,443.8" fill="#fff" stroke="#7c7c7c" stroke-width="0.7" />
<polygon points="567.6,443.8 567.6,446.95 569.36,446.53 569.36,449.68 567.6,450.1 567.6,453.25 569.36,452.83 569.36,455.98 567.6,456.4 567.6,459.55 569.36,459.13 569.36,462.28 567.6,462.7 567.6,465.85 569.36,465.43 569.36,468.58 572.3,467.87 572.3,442.67" fill="#fff" stroke="#7c7c7c" stroke-width="0.55" />
<line x1="569.36" y1="446.53" x2="572.3" y2="445.82" stroke="#7c7c7c" stroke-width="0.45" />
<line x1="569.36" y1="449.68" x2="572.3" y2="448.97" stroke="#7c7c7c" stroke-width="0.45" />
<line x1="569.36" y1="452.83" x2="572.3" y2="452.12" stroke="#7c7c7c" stroke-width="0.45" />
<line x1="569.36" y1="455.98" x2="572.3" y2="455.27" stroke="#7c7c7c" stroke-width="0.45" />
<line x1="569.36" y1="459.13" x2="572.3" y2="458.42" stroke="#7c7c7c" stroke-width="0.45" />
<line x1="569.36" y1="462.28" x2="572.3" y2="461.57" stroke="#7c7c7c" stroke-width="0.45" />
<line x1="569.36" y1="465.43" x2="572.3" y2="464.72" stroke="#7c7c7c" stroke-width="0.45" />
<polygon points="587.2,439.1 587.2,442.25 585.44,442.67 585.44,445.82 587.2,445.4 587.2,448.55 585.44,448.97 585.44,452.12 587.2,451.7 587.2,454.85 585.44,455.27 585.44,458.42 587.2,458 587.2,461.15 585.44,461.57 585.44,464.72 582.5,465.42 582.5,440.22" fill="#fff" stroke="#7c7c7c" stroke-width="0.55" />
<line x1="585.44" y1="442.67" x2="582.5" y2="443.37" stroke="#7c7c7c" stroke-width="0.45" />
<line x1="585.44" y1="445.82" x2="582.5" y2="446.52" stroke="#7c7c7c" stroke-width="0.45" />
<line x1="585.44" y1="448.97" x2="582.5" y2="449.67" stroke="#7c7c7c" stroke-width="0.45" />
<line x1="585.44" y1="452.12" x2="582.5" y2="452.82" stroke="#7c7c7c" stroke-width="0.45" />
<line x1="585.44" y1="455.27" x2="582.5" y2="455.97" stroke="#7c7c7c" stroke-width="0.45" />
<line x1="585.44" y1="458.42" x2="582.5" y2="459.12" stroke="#7c7c7c" stroke-width="0.45" />
<line x1="585.44" y1="461.57" x2="582.5" y2="462.27" stroke="#7c7c7c" stroke-width="0.45" />
<line x1="569.36" y1="468.58" x2="585.44" y2="464.72" stroke="#7c7c7c" stroke-width="0.7" />
<line x1="576.22" y1="442.73" x2="576.22" y2="464.93" stroke="#7c7c7c" stroke-width="0.5" />
<line x1="572.3" y1="465.37" x2="582.5" y2="462.92" stroke="#7c7c7c" stroke-width="0.45" />
<polygon points="605.2,431 627.6,425.62 627.6,429.42 605.2,434.8" fill="#fff" stroke="#7c7c7c" stroke-width="0.7" />
<polygon points="605.2,434.8 605.2,438.04 607.22,437.56 607.22,440.8 605.2,441.28 605.2,444.52 607.22,444.04 607.22,447.28 605.2,447.76 605.2,451 610.58,449.71 610.58,433.51" fill="#fff" stroke="#7c7c7c" stroke-width="0.55" />
<line x1="607.22" y1="437.56" x2="610.58" y2="436.75" stroke="#7c7c7c" stroke-width="0.45" />
<line x1="607.22" y1="440.8" x2="610.58" y2="439.99" stroke="#7c7c7c" stroke-width="0.45" />
<line x1="607.22" y1="444.04" x2="610.58" y2="443.23" stroke="#7c7c7c" stroke-width="0.45" />
<line x1="607.22" y1="447.28" x2="610.58" y2="446.47" stroke="#7c7c7c" stroke-width="0.45" />
<polygon points="627.6,429.42 627.6,432.66 625.58,433.15 625.58,436.39 627.6,435.9 627.6,439.14 625.58,439.63 625.58,442.87 627.6,442.38 627.6,445.62 622.22,446.91 622.22,430.71" fill="#fff" stroke="#7c7c7c" stroke-width="0.55" />
<line x1="625.58" y1="433.15" x2="622.22" y2="433.95" stroke="#7c7c7c" stroke-width="0.45" />
<line x1="625.58" y1="436.39" x2="622.22" y2="437.19" stroke="#7c7c7c" stroke-width="0.45" />
<line x1="625.58" y1="439.63" x2="622.22" y2="440.43" stroke="#7c7c7c" stroke-width="0.45" />
<line x1="625.58" y1="442.87" x2="622.22" y2="443.67" stroke="#7c7c7c" stroke-width="0.45" />
<line x1="607.22" y1="450.52" x2="625.58" y2="446.11" stroke="#7c7c7c" stroke-width="0.7" />
<line x1="615.06" y1="433.43" x2="615.06" y2="446.63" stroke="#7c7c7c" stroke-width="0.5" />
<line x1="610.58" y1="447.21" x2="622.22" y2="444.41" stroke="#7c7c7c" stroke-width="0.45" />
<polygon points="208,427 213.75,429.25 213.75,486 208,485" fill="#fff" stroke="#5a5a5a" stroke-width="0.7" />
<line x1="210.5" y1="428" x2="210.5" y2="485.5" stroke="#aaa" stroke-width="0.5" />
<polygon points="214.5,430 325,404.5 325,447 270,458" fill="#e8e8e8" stroke="none" stroke-width="0" />
<polygon points="214.5,430 270,458 325,447 325,404.5 389.5,434 389.5,448 331,461 298,468.5 213.75,486" fill="#d7cab9" stroke="none" stroke-width="0" />
<polygon points="270,458 325,447 389.5,434.5 389.5,448 331,461 298,468.5 270,474" fill="#e4d5c2" stroke="none" stroke-width="0" />
<line x1="271" y1="458.3" x2="271" y2="473.8" stroke="#cfbea8" stroke-width="0.6" />
<line x1="274.5" y1="457.6" x2="274.5" y2="473.1" stroke="#cfbea8" stroke-width="0.6" />
<line x1="278" y1="456.9" x2="278" y2="472.4" stroke="#cfbea8" stroke-width="0.6" />
<line x1="281.5" y1="456.2" x2="281.5" y2="471.7" stroke="#cfbea8" stroke-width="0.6" />
<line x1="285" y1="455.5" x2="285" y2="471" stroke="#cfbea8" stroke-width="0.6" />
<line x1="288.5" y1="454.8" x2="288.5" y2="470.3" stroke="#cfbea8" stroke-width="0.6" />
<line x1="292" y1="454.1" x2="292" y2="469.6" stroke="#cfbea8" stroke-width="0.6" />
<line x1="295.5" y1="453.4" x2="295.5" y2="468.9" stroke="#cfbea8" stroke-width="0.6" />
<line x1="299" y1="452.7" x2="299" y2="468.27" stroke="#cfbea8" stroke-width="0.6" />
<line x1="302.5" y1="452" x2="302.5" y2="467.48" stroke="#cfbea8" stroke-width="0.6" />
<line x1="306" y1="451.3" x2="306" y2="466.68" stroke="#cfbea8" stroke-width="0.6" />
<line x1="309.5" y1="450.6" x2="309.5" y2="465.89" stroke="#cfbea8" stroke-width="0.6" />
<line x1="313" y1="449.9" x2="313" y2="465.1" stroke="#cfbea8" stroke-width="0.6" />
<line x1="316.5" y1="449.2" x2="316.5" y2="464.3" stroke="#cfbea8" stroke-width="0.6" />
<line x1="320" y1="448.5" x2="320" y2="463.51" stroke="#cfbea8" stroke-width="0.6" />
<line x1="323.5" y1="447.8" x2="323.5" y2="462.71" stroke="#cfbea8" stroke-width="0.6" />
<line x1="327" y1="447.11" x2="327" y2="461.92" stroke="#cfbea8" stroke-width="0.6" />
<line x1="330.5" y1="446.43" x2="330.5" y2="461.12" stroke="#cfbea8" stroke-width="0.6" />
<line x1="334" y1="445.75" x2="334" y2="460.33" stroke="#cfbea8" stroke-width="0.6" />
<line x1="337.5" y1="445.07" x2="337.5" y2="459.56" stroke="#cfbea8" stroke-width="0.6" />
<line x1="341" y1="444.4" x2="341" y2="458.78" stroke="#cfbea8" stroke-width="0.6" />
<line x1="344.5" y1="443.72" x2="344.5" y2="458" stroke="#cfbea8" stroke-width="0.6" />
<line x1="348" y1="443.04" x2="348" y2="457.23" stroke="#cfbea8" stroke-width="0.6" />
<line x1="351.5" y1="442.36" x2="351.5" y2="456.45" stroke="#cfbea8" stroke-width="0.6" />
<line x1="355" y1="441.68" x2="355" y2="455.67" stroke="#cfbea8" stroke-width="0.6" />
<line x1="358.5" y1="441" x2="358.5" y2="454.89" stroke="#cfbea8" stroke-width="0.6" />
<line x1="362" y1="440.32" x2="362" y2="454.12" stroke="#cfbea8" stroke-width="0.6" />
<line x1="365.5" y1="439.64" x2="365.5" y2="453.34" stroke="#cfbea8" stroke-width="0.6" />
<line x1="369" y1="438.96" x2="369" y2="452.56" stroke="#cfbea8" stroke-width="0.6" />
<line x1="372.5" y1="438.29" x2="372.5" y2="451.79" stroke="#cfbea8" stroke-width="0.6" />
<line x1="376" y1="437.61" x2="376" y2="451.01" stroke="#cfbea8" stroke-width="0.6" />
<line x1="379.5" y1="436.93" x2="379.5" y2="450.23" stroke="#cfbea8" stroke-width="0.6" />
<line x1="383" y1="436.25" x2="383" y2="449.46" stroke="#cfbea8" stroke-width="0.6" />
<line x1="386.5" y1="435.57" x2="386.5" y2="448.68" stroke="#cfbea8" stroke-width="0.6" />
<line x1="216" y1="431.26" x2="216" y2="485.53" stroke="#d1c0ab" stroke-width="0.4" />
<line x1="218.2" y1="432.36" x2="218.2" y2="485.07" stroke="#d1c0ab" stroke-width="0.4" />
<line x1="220.4" y1="433.47" x2="220.4" y2="484.6" stroke="#d1c0ab" stroke-width="0.4" />
<line x1="222.6" y1="434.58" x2="222.6" y2="484.14" stroke="#d1c0ab" stroke-width="0.4" />
<line x1="224.8" y1="435.69" x2="224.8" y2="483.68" stroke="#d1c0ab" stroke-width="0.4" />
<line x1="227" y1="436.8" x2="227" y2="483.22" stroke="#d1c0ab" stroke-width="0.4" />
<line x1="229.2" y1="437.91" x2="229.2" y2="482.76" stroke="#d1c0ab" stroke-width="0.4" />
<line x1="231.4" y1="439.02" x2="231.4" y2="482.29" stroke="#d1c0ab" stroke-width="0.4" />
<line x1="233.6" y1="440.13" x2="233.6" y2="481.83" stroke="#d1c0ab" stroke-width="0.4" />
<line x1="235.8" y1="441.24" x2="235.8" y2="481.37" stroke="#d1c0ab" stroke-width="0.4" />
<line x1="238" y1="442.34" x2="238" y2="480.91" stroke="#d1c0ab" stroke-width="0.4" />
<line x1="240.2" y1="443.45" x2="240.2" y2="480.45" stroke="#d1c0ab" stroke-width="0.4" />
<line x1="242.4" y1="444.56" x2="242.4" y2="479.98" stroke="#d1c0ab" stroke-width="0.4" />
<line x1="244.6" y1="445.67" x2="244.6" y2="479.52" stroke="#d1c0ab" stroke-width="0.4" />
<line x1="246.8" y1="446.78" x2="246.8" y2="479.06" stroke="#d1c0ab" stroke-width="0.4" />
<line x1="249" y1="447.89" x2="249" y2="478.6" stroke="#d1c0ab" stroke-width="0.4" />
<line x1="251.2" y1="449" x2="251.2" y2="478.14" stroke="#d1c0ab" stroke-width="0.4" />
<line x1="253.4" y1="450.11" x2="253.4" y2="477.67" stroke="#d1c0ab" stroke-width="0.4" />
<line x1="255.6" y1="451.21" x2="255.6" y2="477.21" stroke="#d1c0ab" stroke-width="0.4" />
<line x1="257.8" y1="452.32" x2="257.8" y2="476.75" stroke="#d1c0ab" stroke-width="0.4" />
<line x1="260" y1="453.43" x2="260" y2="476.29" stroke="#d1c0ab" stroke-width="0.4" />
<line x1="262.2" y1="454.54" x2="262.2" y2="475.83" stroke="#d1c0ab" stroke-width="0.4" />
<line x1="264.4" y1="455.65" x2="264.4" y2="475.36" stroke="#d1c0ab" stroke-width="0.4" />
<line x1="266.6" y1="456.76" x2="266.6" y2="474.9" stroke="#d1c0ab" stroke-width="0.4" />
<line x1="268.8" y1="457.87" x2="268.8" y2="474.44" stroke="#d1c0ab" stroke-width="0.4" />
<line x1="327" y1="405.91" x2="327" y2="446.61" stroke="#d1c0ab" stroke-width="0.4" />
<line x1="329.2" y1="406.92" x2="329.2" y2="446.19" stroke="#d1c0ab" stroke-width="0.4" />
<line x1="331.4" y1="407.92" x2="331.4" y2="445.76" stroke="#d1c0ab" stroke-width="0.4" />
<line x1="333.6" y1="408.93" x2="333.6" y2="445.33" stroke="#d1c0ab" stroke-width="0.4" />
<line x1="335.8" y1="409.94" x2="335.8" y2="444.9" stroke="#d1c0ab" stroke-width="0.4" />
<line x1="338" y1="410.94" x2="338" y2="444.48" stroke="#d1c0ab" stroke-width="0.4" />
<line x1="340.2" y1="411.95" x2="340.2" y2="444.05" stroke="#d1c0ab" stroke-width="0.4" />
<line x1="342.4" y1="412.95" x2="342.4" y2="443.62" stroke="#d1c0ab" stroke-width="0.4" />
<line x1="344.6" y1="413.96" x2="344.6" y2="443.2" stroke="#d1c0ab" stroke-width="0.4" />
<line x1="346.8" y1="414.96" x2="346.8" y2="442.77" stroke="#d1c0ab" stroke-width="0.4" />
<line x1="349" y1="415.97" x2="349" y2="442.34" stroke="#d1c0ab" stroke-width="0.4" />
<line x1="351.2" y1="416.97" x2="351.2" y2="441.92" stroke="#d1c0ab" stroke-width="0.4" />
<line x1="353.4" y1="417.98" x2="353.4" y2="441.49" stroke="#d1c0ab" stroke-width="0.4" />
<line x1="355.6" y1="418.98" x2="355.6" y2="441.06" stroke="#d1c0ab" stroke-width="0.4" />
<line x1="357.8" y1="419.99" x2="357.8" y2="440.64" stroke="#d1c0ab" stroke-width="0.4" />
<line x1="360" y1="420.99" x2="360" y2="440.21" stroke="#d1c0ab" stroke-width="0.4" />
<line x1="362.2" y1="422" x2="362.2" y2="439.78" stroke="#d1c0ab" stroke-width="0.4" />
<line x1="364.4" y1="423.01" x2="364.4" y2="439.36" stroke="#d1c0ab" stroke-width="0.4" />
<line x1="366.6" y1="424.01" x2="366.6" y2="438.93" stroke="#d1c0ab" stroke-width="0.4" />
<line x1="368.8" y1="425.02" x2="368.8" y2="438.5" stroke="#d1c0ab" stroke-width="0.4" />
<line x1="371" y1="426.02" x2="371" y2="438.08" stroke="#d1c0ab" stroke-width="0.4" />
<line x1="373.2" y1="427.03" x2="373.2" y2="437.65" stroke="#d1c0ab" stroke-width="0.4" />
<line x1="375.4" y1="428.03" x2="375.4" y2="437.22" stroke="#d1c0ab" stroke-width="0.4" />
<line x1="377.6" y1="429.04" x2="377.6" y2="436.8" stroke="#d1c0ab" stroke-width="0.4" />
<line x1="379.8" y1="430.04" x2="379.8" y2="436.37" stroke="#d1c0ab" stroke-width="0.4" />
<line x1="382" y1="431.05" x2="382" y2="435.94" stroke="#d1c0ab" stroke-width="0.4" />
<line x1="384.2" y1="432.05" x2="384.2" y2="435.52" stroke="#d1c0ab" stroke-width="0.4" />
<line x1="386.4" y1="433.06" x2="386.4" y2="435.09" stroke="#d1c0ab" stroke-width="0.4" />
<line x1="388.6" y1="434.07" x2="388.6" y2="434.66" stroke="#d1c0ab" stroke-width="0.4" />
<polyline points="208,427 325,402 326.5,402.8" fill="none" stroke="#5a5a5a" stroke-width="0.9" />
<polyline points="326.5,403.2 386.5,432 390.5,433.8" fill="none" stroke="#8a8177" stroke-width="0.8" />
<polyline points="213.75,429.25 324.5,404.5" fill="none" stroke="#777" stroke-width="0.6" />
<line x1="325" y1="402" x2="325" y2="447" stroke="#777" stroke-width="0.6" />
<line x1="214.5" y1="430" x2="270" y2="458" stroke="#777" stroke-width="0.7" />
<line x1="270" y1="458" x2="325" y2="447" stroke="#777" stroke-width="0.5" />
<line x1="325" y1="447" x2="386.5" y2="433" stroke="#a89a88" stroke-width="0.5" />
<line x1="390.5" y1="433.5" x2="390.5" y2="447.5" stroke="#5a5a5a" stroke-width="0.7" />
<polygon points="245.8,422.7 258.9,429.2 258.9,450.2 245.8,443.7" fill="#fff" stroke="#777" stroke-width="0.6" />
<polygon points="258.9,429.2 263,428.2 263,452.3 258.9,450.2" fill="#f6f6f6" stroke="#777" stroke-width="0.6" />
<polygon points="245.8,422.7 249.3,420.8 263,428.2 258.9,429.2" fill="#fff" stroke="#777" stroke-width="0.6" />
<polygon points="280.9,441.3 298,452 281,455.8" fill="#fff" stroke="#777" stroke-width="0.6" />
<polygon points="280.9,441.3 285,440.3 301.5,450.6 298,452" fill="#fff" stroke="#777" stroke-width="0.6" />
<polygon points="174,496 196,490 199,492 177,498" fill="#fff" stroke="#8a8a8a" stroke-width="0.6" />
<polygon points="174,496 177,498 177,570 174,568" fill="#fff" stroke="#8a8a8a" stroke-width="0.6" />
<polygon points="177,498 180,497.3 180,566 177,570" fill="#fff" stroke="#8a8a8a" stroke-width="0.6" />
<line x1="177" y1="566" x2="184" y2="570" stroke="#8a8a8a" stroke-width="0.6" />
<line x1="180" y1="499.5" x2="186" y2="497.8" stroke="#8a8a8a" stroke-width="0.5" />
<polygon points="198.4,493.25 300,471.4 300,519 262,528 229.6,533 198.4,512" fill="#e2e2e2" stroke="none" stroke-width="0" />
<polygon points="194,490.1 196.5,488.4 299.5,466 300,471.4 198.4,493.25" fill="#fff" stroke="#5a5a5a" stroke-width="0.8" />
<line x1="196" y1="490.7" x2="298.8" y2="468.2" stroke="#777" stroke-width="0.5" />
<line x1="199" y1="494" x2="199" y2="512" stroke="#777" stroke-width="0.6" />
<polygon points="300,468 307,466.6 307,533 300,535" fill="#d7cab9" stroke="#a89a86" stroke-width="0.5" />
<polygon points="307,466.6 331,461.5 331,470 307,477" fill="#d7cab9" stroke="none" stroke-width="0" />
<polygon points="300.5,466.3 330.5,459.8 330.5,462.8 300.5,469.3" fill="#fff" stroke="#777" stroke-width="0.5" />
<polygon points="334,463 436,439 436,500 334,524" fill="#e2e2e2" stroke="none" stroke-width="0" />
<polygon points="331,459.5 333,458 435,435 437,437 437,440 335,463 331,461.5" fill="#fff" stroke="#5a5a5a" stroke-width="0.8" />
<line x1="333" y1="460.5" x2="435.5" y2="437.5" stroke="#777" stroke-width="0.5" />
<line x1="437" y1="437" x2="437" y2="502" stroke="#5a5a5a" stroke-width="0.8" />
<line x1="335" y1="463" x2="335" y2="500" stroke="#777" stroke-width="0.5" />
<polygon points="339,468 356,465.6 390,483 390,500 373,504 339,486" fill="#fff" stroke="#8f8f8f" stroke-width="0.5" />
<polyline points="339,468 373,486 390,483" fill="none" stroke="#8f8f8f" stroke-width="0.5" />
<line x1="373" y1="486" x2="373" y2="504" stroke="#8f8f8f" stroke-width="0.5" />
<line x1="342" y1="469.3" x2="342" y2="486" stroke="#8f8f8f" stroke-width="0.5" />
<line x1="342" y1="474" x2="371" y2="489.5" stroke="#8f8f8f" stroke-width="0.5" />
<line x1="342" y1="480" x2="371" y2="495.5" stroke="#8f8f8f" stroke-width="0.5" />
<line x1="345" y1="467.2" x2="377" y2="484" stroke="#8f8f8f" stroke-width="0.5" />
<polygon points="352,462.3 355,461.7 360,464.3 360,469.5 357,470 352,467.5" fill="#fff" stroke="#8f8f8f" stroke-width="0.5" />
<line x1="352" y1="462.3" x2="357" y2="465" stroke="#8f8f8f" stroke-width="0.5" />
<line x1="357" y1="465" x2="357" y2="470" stroke="#8f8f8f" stroke-width="0.5" />
<line x1="357" y1="465" x2="360" y2="464.3" stroke="#8f8f8f" stroke-width="0.5" />
<polygon points="382,484 388,482.5 391,484 391,552 385,553.5 382,552" fill="#fff" stroke="#8f8f8f" stroke-width="0.5" />
<polyline points="382,484 385,485.5 391,484" fill="none" stroke="#8f8f8f" stroke-width="0.5" />
<line x1="385" y1="485.5" x2="385" y2="553.5" stroke="#8f8f8f" stroke-width="0.5" />
<polygon points="383.5,480.5 386.5,479.8 388.5,480.8 388.5,483 385.5,483.8 383.5,482.8" fill="#fff" stroke="#8f8f8f" stroke-width="0.5" />
<line x1="385" y1="497" x2="391" y2="495.5" stroke="#8f8f8f" stroke-width="0.4" />
<line x1="385" y1="510" x2="391" y2="508.5" stroke="#8f8f8f" stroke-width="0.4" />
<line x1="385" y1="523" x2="391" y2="521.5" stroke="#8f8f8f" stroke-width="0.4" />
<line x1="385" y1="537" x2="391" y2="535.5" stroke="#8f8f8f" stroke-width="0.4" />
<polygon points="369,502 382,499 382,546 369,540" fill="#fff" stroke="#8f8f8f" stroke-width="0.5" />
<line x1="369" y1="510" x2="382" y2="507" stroke="#8f8f8f" stroke-width="0.4" />
<line x1="369" y1="520" x2="382" y2="517" stroke="#8f8f8f" stroke-width="0.4" />
<line x1="369" y1="530" x2="382" y2="527" stroke="#8f8f8f" stroke-width="0.4" />
<path d="M371.5,530 l0,-4 l0.8,-1.5 l0.8,1.5 l0,4 z" fill="#fff" stroke="#777" stroke-width="0.5" />
<path d="M375,530 l0,-4 l0.8,-1.5 l0.8,1.5 l0,4 z" fill="#fff" stroke="#777" stroke-width="0.5" />
<polygon points="306.3,476.3 320.4,474.7 356.7,493 356.7,560 341,563 306.3,545" fill="#fff" stroke="#8f8f8f" stroke-width="0.6" />
<line x1="320.4" y1="474.7" x2="320.4" y2="482" stroke="#8f8f8f" stroke-width="0.5" />
<line x1="306.3" y1="476.3" x2="341" y2="496" stroke="#8f8f8f" stroke-width="0.5" />
<polygon points="314,500 325,497.5 329,499.5 329,510 318,512.5 314,510.5" fill="#fff" stroke="#8f8f8f" stroke-width="0.5" />
<polygon points="315.5,501.5 324.5,499.5 324.5,508 315.5,510" fill="#f0f0f0" stroke="#8f8f8f" stroke-width="0.5" />
<polygon points="308,522 322,519 336,526.5 336,566 322,569 308,562" fill="#fff" stroke="#8f8f8f" stroke-width="0.5" />
<line x1="322" y1="519" x2="336" y2="526.5" stroke="#8f8f8f" stroke-width="0.5" />
<line x1="308" y1="522" x2="322" y2="529.5" stroke="#8f8f8f" stroke-width="0.5" />
<line x1="322" y1="529.5" x2="336" y2="526.5" stroke="#8f8f8f" stroke-width="0.5" />
<line x1="322" y1="529.5" x2="322" y2="569" stroke="#8f8f8f" stroke-width="0.5" />
<path d="M328,525 l0,-4 q1.5,-1.5 2.5,0.5" fill="none" stroke="#8f8f8f" stroke-width="0.6" />
<polygon points="341,496 357.4,493.6 358,563.7 342.5,566" fill="#fff" stroke="#8f8f8f" stroke-width="0.6" />
<polygon points="288,545 307,539 323,548 323,570 301,576 288,567" fill="#fff" stroke="#8f8f8f" stroke-width="0.6" />
<polyline points="288,545 301,553 323,548" fill="none" stroke="#8f8f8f" stroke-width="0.5" />
<line x1="301" y1="553" x2="301" y2="576" stroke="#8f8f8f" stroke-width="0.5" />
<ellipse cx="295" cy="537" rx="1.2" ry="3" fill="none" stroke="#8f8f8f" stroke-width="0.5"/>
<ellipse cx="306" cy="541.5" rx="1.5" ry="2" fill="none" stroke="#8f8f8f" stroke-width="0.5"/>
<ellipse cx="307.5" cy="544.5" rx="1.2" ry="1.5" fill="none" stroke="#8f8f8f" stroke-width="0.5"/>
<polygon points="266,532 284.6,542.5 284.6,559.6 272.9,555.5 266,554" fill="#fff" stroke="#8f8f8f" stroke-width="0.5" />
<polygon points="414,508 428,499 437,503 437,520 421,524 414,520" fill="#fff" stroke="#8f8f8f" stroke-width="0.5" />
<line x1="414" y1="512" x2="424" y2="516" stroke="#8f8f8f" stroke-width="0.5" />
<line x1="424" y1="516" x2="437" y2="511" stroke="#8f8f8f" stroke-width="0.5" />
<line x1="428" y1="499" x2="437" y2="496.5" stroke="#444" stroke-width="0.9" />
<polygon points="440,447 447,445.5 494,466 494,521 487,523 440,502" fill="#fff" stroke="#8f8f8f" stroke-width="0.6" />
<polygon points="440,447 447,445.5 447,500 440,502" fill="#f6f6f6" stroke="#8f8f8f" stroke-width="0.5" />
<line x1="447" y1="456" x2="487" y2="475" stroke="#8f8f8f" stroke-width="0.5" />
<line x1="447" y1="468" x2="487" y2="487" stroke="#8f8f8f" stroke-width="0.5" />
<line x1="447" y1="480" x2="487" y2="499" stroke="#8f8f8f" stroke-width="0.5" />
<line x1="447" y1="492" x2="487" y2="511" stroke="#8f8f8f" stroke-width="0.5" />
<line x1="487" y1="465.5" x2="487" y2="523" stroke="#8f8f8f" stroke-width="0.5" />
<polygon points="445,437 448,436.4 466,444.5 466,450 463,450.6 445,442.5" fill="#fff" stroke="#8f8f8f" stroke-width="0.5" />
<polygon points="448,441 460,446.5 460,452 448,446.5" fill="#fff" stroke="#8f8f8f" stroke-width="0.5" />
<polygon points="480,459 486,457.5 494,461 494,468 488,469.5 480,466" fill="#fff" stroke="#8f8f8f" stroke-width="0.5" />
<ellipse cx="458" cy="467" rx="1.3" ry="1.8" fill="none" stroke="#777" stroke-width="0.5"/>
<ellipse cx="463" cy="470" rx="1.3" ry="1.8" fill="none" stroke="#777" stroke-width="0.5"/>
<ellipse cx="449" cy="481" rx="1.3" ry="1.8" fill="none" stroke="#777" stroke-width="0.5"/>
<ellipse cx="461" cy="487" rx="1.3" ry="1.8" fill="none" stroke="#777" stroke-width="0.5"/>
<ellipse cx="449" cy="491" rx="1.3" ry="1.8" fill="none" stroke="#777" stroke-width="0.5"/>
<polygon points="126.25,578.75 172.5,567.5 253.75,626.25 206.25,640" fill="#fff" stroke="#a6a6a6" stroke-width="0.6" />
<line x1="130.96" y1="582.35" x2="177.28" y2="570.96" stroke="#a6a6a6" stroke-width="0.5" />
<line x1="135.66" y1="585.96" x2="182.06" y2="574.41" stroke="#a6a6a6" stroke-width="0.5" />
<line x1="140.37" y1="589.56" x2="186.84" y2="577.87" stroke="#a6a6a6" stroke-width="0.5" />
<line x1="145.07" y1="593.16" x2="191.62" y2="581.32" stroke="#a6a6a6" stroke-width="0.5" />
<line x1="149.78" y1="596.76" x2="196.4" y2="584.78" stroke="#a6a6a6" stroke-width="0.5" />
<line x1="154.49" y1="600.37" x2="201.18" y2="588.24" stroke="#a6a6a6" stroke-width="0.5" />
<line x1="159.19" y1="603.97" x2="205.96" y2="591.69" stroke="#a6a6a6" stroke-width="0.5" />
<line x1="163.9" y1="607.57" x2="210.74" y2="595.15" stroke="#a6a6a6" stroke-width="0.5" />
<line x1="168.6" y1="611.18" x2="215.51" y2="598.6" stroke="#a6a6a6" stroke-width="0.5" />
<line x1="173.31" y1="614.78" x2="220.29" y2="602.06" stroke="#a6a6a6" stroke-width="0.5" />
<line x1="178.01" y1="618.38" x2="225.07" y2="605.51" stroke="#a6a6a6" stroke-width="0.5" />
<line x1="182.72" y1="621.99" x2="229.85" y2="608.97" stroke="#a6a6a6" stroke-width="0.5" />
<line x1="187.43" y1="625.59" x2="234.63" y2="612.43" stroke="#a6a6a6" stroke-width="0.5" />
<line x1="192.13" y1="629.19" x2="239.41" y2="615.88" stroke="#a6a6a6" stroke-width="0.5" />
<line x1="196.84" y1="632.79" x2="244.19" y2="619.34" stroke="#a6a6a6" stroke-width="0.5" />
<line x1="201.54" y1="636.4" x2="248.97" y2="622.79" stroke="#a6a6a6" stroke-width="0.5" />
<polygon points="236.25,612.5 511,533.6 534,545 253.75,626.25" fill="#fff" stroke="#a6a6a6" stroke-width="0.6" />
<line x1="240.68" y1="611.23" x2="258.27" y2="624.94" stroke="#a6a6a6" stroke-width="0.5" />
<line x1="245.11" y1="609.95" x2="262.79" y2="623.63" stroke="#a6a6a6" stroke-width="0.5" />
<line x1="249.54" y1="608.68" x2="267.31" y2="622.32" stroke="#a6a6a6" stroke-width="0.5" />
<line x1="253.98" y1="607.41" x2="271.83" y2="621.01" stroke="#a6a6a6" stroke-width="0.5" />
<line x1="258.41" y1="606.14" x2="276.35" y2="619.7" stroke="#a6a6a6" stroke-width="0.5" />
<line x1="262.84" y1="604.86" x2="280.87" y2="618.39" stroke="#a6a6a6" stroke-width="0.5" />
<line x1="267.27" y1="603.59" x2="285.39" y2="617.08" stroke="#a6a6a6" stroke-width="0.5" />
<line x1="271.7" y1="602.32" x2="289.91" y2="615.77" stroke="#a6a6a6" stroke-width="0.5" />
<line x1="276.13" y1="601.05" x2="294.43" y2="614.46" stroke="#a6a6a6" stroke-width="0.5" />
<line x1="280.56" y1="599.77" x2="298.95" y2="613.15" stroke="#a6a6a6" stroke-width="0.5" />
<line x1="285" y1="598.5" x2="303.47" y2="611.83" stroke="#a6a6a6" stroke-width="0.5" />
<line x1="289.43" y1="597.23" x2="307.99" y2="610.52" stroke="#a6a6a6" stroke-width="0.5" />
<line x1="293.86" y1="595.96" x2="312.51" y2="609.21" stroke="#a6a6a6" stroke-width="0.5" />
<line x1="298.29" y1="594.68" x2="317.03" y2="607.9" stroke="#a6a6a6" stroke-width="0.5" />
<line x1="302.72" y1="593.41" x2="321.55" y2="606.59" stroke="#a6a6a6" stroke-width="0.5" />
<line x1="307.15" y1="592.14" x2="326.07" y2="605.28" stroke="#a6a6a6" stroke-width="0.5" />
<line x1="311.58" y1="590.87" x2="330.59" y2="603.97" stroke="#a6a6a6" stroke-width="0.5" />
<line x1="316.02" y1="589.59" x2="335.11" y2="602.66" stroke="#a6a6a6" stroke-width="0.5" />
<line x1="320.45" y1="588.32" x2="339.63" y2="601.35" stroke="#a6a6a6" stroke-width="0.5" />
<line x1="324.88" y1="587.05" x2="344.15" y2="600.04" stroke="#a6a6a6" stroke-width="0.5" />
<line x1="329.31" y1="585.78" x2="348.67" y2="598.73" stroke="#a6a6a6" stroke-width="0.5" />
<line x1="333.74" y1="584.5" x2="353.19" y2="597.42" stroke="#a6a6a6" stroke-width="0.5" />
<line x1="338.17" y1="583.23" x2="357.71" y2="596.11" stroke="#a6a6a6" stroke-width="0.5" />
<line x1="342.6" y1="581.96" x2="362.23" y2="594.8" stroke="#a6a6a6" stroke-width="0.5" />
<line x1="347.04" y1="580.69" x2="366.75" y2="593.49" stroke="#a6a6a6" stroke-width="0.5" />
<line x1="351.47" y1="579.41" x2="371.27" y2="592.18" stroke="#a6a6a6" stroke-width="0.5" />
<line x1="355.9" y1="578.14" x2="375.79" y2="590.87" stroke="#a6a6a6" stroke-width="0.5" />
<line x1="360.33" y1="576.87" x2="380.31" y2="589.56" stroke="#a6a6a6" stroke-width="0.5" />
<line x1="364.76" y1="575.6" x2="384.83" y2="588.25" stroke="#a6a6a6" stroke-width="0.5" />
<line x1="369.19" y1="574.32" x2="389.35" y2="586.94" stroke="#a6a6a6" stroke-width="0.5" />
<line x1="373.62" y1="573.05" x2="393.88" y2="585.62" stroke="#a6a6a6" stroke-width="0.5" />
<line x1="378.06" y1="571.78" x2="398.4" y2="584.31" stroke="#a6a6a6" stroke-width="0.5" />
<line x1="382.49" y1="570.5" x2="402.92" y2="583" stroke="#a6a6a6" stroke-width="0.5" />
<line x1="386.92" y1="569.23" x2="407.44" y2="581.69" stroke="#a6a6a6" stroke-width="0.5" />
<line x1="391.35" y1="567.96" x2="411.96" y2="580.38" stroke="#a6a6a6" stroke-width="0.5" />
<line x1="395.78" y1="566.69" x2="416.48" y2="579.07" stroke="#a6a6a6" stroke-width="0.5" />
<line x1="400.21" y1="565.41" x2="421" y2="577.76" stroke="#a6a6a6" stroke-width="0.5" />
<line x1="404.65" y1="564.14" x2="425.52" y2="576.45" stroke="#a6a6a6" stroke-width="0.5" />
<line x1="409.08" y1="562.87" x2="430.04" y2="575.14" stroke="#a6a6a6" stroke-width="0.5" />
<line x1="413.51" y1="561.6" x2="434.56" y2="573.83" stroke="#a6a6a6" stroke-width="0.5" />
<line x1="417.94" y1="560.32" x2="439.08" y2="572.52" stroke="#a6a6a6" stroke-width="0.5" />
<line x1="422.37" y1="559.05" x2="443.6" y2="571.21" stroke="#a6a6a6" stroke-width="0.5" />
<line x1="426.8" y1="557.78" x2="448.12" y2="569.9" stroke="#a6a6a6" stroke-width="0.5" />
<line x1="431.23" y1="556.51" x2="452.64" y2="568.59" stroke="#a6a6a6" stroke-width="0.5" />
<line x1="435.67" y1="555.23" x2="457.16" y2="567.28" stroke="#a6a6a6" stroke-width="0.5" />
<line x1="440.1" y1="553.96" x2="461.68" y2="565.97" stroke="#a6a6a6" stroke-width="0.5" />
<line x1="444.53" y1="552.69" x2="466.2" y2="564.66" stroke="#a6a6a6" stroke-width="0.5" />
<line x1="448.96" y1="551.42" x2="470.72" y2="563.35" stroke="#a6a6a6" stroke-width="0.5" />
<line x1="453.39" y1="550.14" x2="475.24" y2="562.04" stroke="#a6a6a6" stroke-width="0.5" />
<line x1="457.82" y1="548.87" x2="479.76" y2="560.73" stroke="#a6a6a6" stroke-width="0.5" />
<line x1="462.25" y1="547.6" x2="484.28" y2="559.42" stroke="#a6a6a6" stroke-width="0.5" />
<line x1="466.69" y1="546.33" x2="488.8" y2="558.1" stroke="#a6a6a6" stroke-width="0.5" />
<line x1="471.12" y1="545.05" x2="493.32" y2="556.79" stroke="#a6a6a6" stroke-width="0.5" />
<line x1="475.55" y1="543.78" x2="497.84" y2="555.48" stroke="#a6a6a6" stroke-width="0.5" />
<line x1="479.98" y1="542.51" x2="502.36" y2="554.17" stroke="#a6a6a6" stroke-width="0.5" />
<line x1="484.41" y1="541.24" x2="506.88" y2="552.86" stroke="#a6a6a6" stroke-width="0.5" />
<line x1="488.84" y1="539.96" x2="511.4" y2="551.55" stroke="#a6a6a6" stroke-width="0.5" />
<line x1="493.27" y1="538.69" x2="515.92" y2="550.24" stroke="#a6a6a6" stroke-width="0.5" />
<line x1="497.71" y1="537.42" x2="520.44" y2="548.93" stroke="#a6a6a6" stroke-width="0.5" />
<line x1="502.14" y1="536.15" x2="524.96" y2="547.62" stroke="#a6a6a6" stroke-width="0.5" />
<line x1="506.57" y1="534.87" x2="529.48" y2="546.31" stroke="#a6a6a6" stroke-width="0.5" />
<line x1="385.5" y1="588" x2="385.5" y2="700" stroke="#f3d6a8" stroke-width="0.8" />
<line x1="389.8" y1="588" x2="389.8" y2="700" stroke="#f3d6a8" stroke-width="0.8" />
<line x1="394" y1="586" x2="394" y2="700" stroke="#f3d6a8" stroke-width="0.8" />
<polygon points="184,504 221,528 221,602 184,574" fill="#e2e2e2" stroke="#5a5a5a" stroke-width="0.7" />
<polygon points="221,527 229.6,524.4 229.6,600 221,602" fill="#ececec" stroke="#5a5a5a" stroke-width="0.7" />
<polygon points="183.5,503 191.5,500.7 229.6,524.6 221,527" fill="#f1f1f1" stroke="#5a5a5a" stroke-width="0.8" />
<line x1="186" y1="502.6" x2="223" y2="526.2" stroke="#777" stroke-width="0.4" />
<line x1="236.25" y1="612.5" x2="511" y2="533.6" stroke="#5a5a5a" stroke-width="0.8" />
<line x1="237" y1="609.5" x2="510" y2="531" stroke="#8a8a8a" stroke-width="0.5" />
<polygon points="229.6,530 231.8,529.56 231.8,600.56 229.6,601" fill="#fff" stroke="#8a8a8a" stroke-width="0.55" />
<polygon points="234.5,533 237.1,532.48 237.1,610.98 234.5,611.5" fill="#fff" stroke="#8a8a8a" stroke-width="0.55" />
<line x1="229.6" y1="601" x2="236" y2="612" stroke="#8a8a8a" stroke-width="0.6" />
<polygon points="229.6,531.4 253,527 253,529.6 229.6,534" fill="#fff" stroke="#8a8a8a" stroke-width="0.6" />
<polygon points="262,526.5 300,517.6 300,520.2 262,529.1" fill="#fff" stroke="#8a8a8a" stroke-width="0.6" />
<polygon points="300,517.6 359.8,502 359.8,504.6 300,520.2" fill="#fff" stroke="#8a8a8a" stroke-width="0.6" />
<polygon points="367.7,500.2 404.5,490.6 404.5,493.2 367.7,502.8" fill="#fff" stroke="#8a8a8a" stroke-width="0.6" />
<polygon points="412.6,488.8 498,468 498,470.6 412.6,491.4" fill="#fff" stroke="#8a8a8a" stroke-width="0.6" />
<polygon points="256.5,531 258.7,530.56 258.7,605.56 256.5,606" fill="#fff" stroke="#8a8a8a" stroke-width="0.55" />
<polygon points="286,523 288.2,522.56 288.2,597.56 286,598" fill="#fff" stroke="#8a8a8a" stroke-width="0.55" />
<polygon points="335.4,510 337.6,509.56 337.6,584.56 335.4,585" fill="#fff" stroke="#8a8a8a" stroke-width="0.55" />
<polygon points="338.4,509.3 340.6,508.86 340.6,583.76 338.4,584.2" fill="#fff" stroke="#8a8a8a" stroke-width="0.55" />
<polygon points="378,500 380.2,499.56 380.2,572.56 378,573" fill="#fff" stroke="#8a8a8a" stroke-width="0.55" />
<polygon points="437,484.5 439.2,484.06 439.2,556.56 437,557" fill="#fff" stroke="#8a8a8a" stroke-width="0.55" />
<polygon points="440,483.8 442.2,483.36 442.2,555.56 440,556" fill="#fff" stroke="#8a8a8a" stroke-width="0.55" />
<polygon points="474.5,475 476.7,474.56 476.7,545.86 474.5,546.3" fill="#fff" stroke="#8a8a8a" stroke-width="0.55" />
<polygon points="479,476.5 495,472.5 495,538.5 479,542.5" fill="none" stroke="#8a8a8a" stroke-width="0.5" />
<line x1="237" y1="553.5" x2="253" y2="549.5" stroke="#444" stroke-width="0.8" />
<polygon points="253,527.5 262,525.7 262,602.7 253,604.5" fill="#efe7d9" stroke="#8f887c" stroke-width="0.6" />
<polygon points="253,527.5 255.7,526.96 255.7,603.96 253,604.5" fill="#fff" stroke="#8f887c" stroke-width="0.5" />
<line x1="259.48" y1="526.2" x2="259.48" y2="603.2" stroke="#cfc4b0" stroke-width="0.5" />
<line x1="262" y1="525.7" x2="262" y2="602.7" stroke="#555" stroke-width="0.8" />
<path d="M253,527.5 q4.5,-2.6 9,-1.8" fill="#fff" stroke="#777" stroke-width="0.6" />
<polygon points="359.8,501 367.7,499.42 367.7,574.42 359.8,576" fill="#efe7d9" stroke="#8f887c" stroke-width="0.6" />
<polygon points="359.8,501 362.17,500.53 362.17,575.53 359.8,576" fill="#fff" stroke="#8f887c" stroke-width="0.5" />
<line x1="365.49" y1="499.86" x2="365.49" y2="574.86" stroke="#cfc4b0" stroke-width="0.5" />
<line x1="367.7" y1="499.42" x2="367.7" y2="574.42" stroke="#555" stroke-width="0.8" />
<path d="M359.8,501 q3.95,-2.6 7.9,-1.58" fill="#fff" stroke="#777" stroke-width="0.6" />
<polygon points="404.5,489.5 412.6,487.88 412.6,561.88 404.5,563.5" fill="#efe7d9" stroke="#8f887c" stroke-width="0.6" />
<polygon points="404.5,489.5 406.93,489.01 406.93,563.01 404.5,563.5" fill="#fff" stroke="#8f887c" stroke-width="0.5" />
<line x1="410.33" y1="488.33" x2="410.33" y2="562.33" stroke="#cfc4b0" stroke-width="0.5" />
<line x1="412.6" y1="487.88" x2="412.6" y2="561.88" stroke="#555" stroke-width="0.8" />
<path d="M404.5,489.5 q4.05,-2.6 8.1,-1.62" fill="#fff" stroke="#777" stroke-width="0.6" />
<polygon points="498,466.5 506,464.9 506,535.9 498,537.5" fill="#efe7d9" stroke="#8f887c" stroke-width="0.6" />
<polygon points="498,466.5 500.4,466.02 500.4,537.02 498,537.5" fill="#fff" stroke="#8f887c" stroke-width="0.5" />
<line x1="503.76" y1="465.35" x2="503.76" y2="536.35" stroke="#cfc4b0" stroke-width="0.5" />
<line x1="506" y1="464.9" x2="506" y2="535.9" stroke="#555" stroke-width="0.8" />
<path d="M498,466.5 q4,-2.6 8,-1.6" fill="#fff" stroke="#777" stroke-width="0.6" />
<path d="M241.5,556 L241.5,540 L240,530 Q239.5,522 242.5,519.5 L242.2,516.5 Q242,512.5 245,512.3 Q248,512.5 247.6,516.5 L247.3,519 Q251,521 251.2,528 L251,540 L249.5,556" fill="#fff" stroke="#8f8f8f" stroke-width="0.6" />
<line x1="383.2" y1="432" x2="385.5" y2="588" stroke="#efcfa4" stroke-width="0.7" opacity="0.45"/>
<line x1="511" y1="533.6" x2="548" y2="548" stroke="#5a5a5a" stroke-width="0.7" />
<polygon points="509,469 511,468.6 511,534.1 509,534.5" fill="#fff" stroke="#8a8a8a" stroke-width="0.55" />
<polygon points="515,471.5 517,471.1 517,536.6 515,537" fill="#fff" stroke="#8a8a8a" stroke-width="0.55" />
<line x1="506" y1="525" x2="540" y2="540" stroke="#8a8a8a" stroke-width="0.5" />
<line x1="511" y1="530" x2="545" y2="545" stroke="#8a8a8a" stroke-width="0.5" />
<line x1="520" y1="528" x2="548" y2="540" stroke="#8a8a8a" stroke-width="0.5" />
<polygon points="589.5,439.5 642.5,460.5 642.5,487 589.5,470" fill="#e1e1e1" stroke="none" stroke-width="0" />
<polygon points="642.5,460.5 649.25,458.2 649.25,486 642.5,488" fill="#ececec" stroke="#5a5a5a" stroke-width="0.7" />
<line x1="645.5" y1="459.5" x2="645.5" y2="487" stroke="#777" stroke-width="0.5" />
<polygon points="589.5,438 596,436.5 649.25,458.2 642.5,460.5" fill="#ececec" stroke="#5a5a5a" stroke-width="0.8" />
<line x1="589.5" y1="438" x2="589.5" y2="470" stroke="#5a5a5a" stroke-width="0.8" />
<polygon points="526,454.5 580,476.5 580,494 549,502 549,531 527,518" fill="#e1e1e1" stroke="none" stroke-width="0" />
<polygon points="562,499 549,502 580,494 580,477.5 628.75,465 628.75,484 747.5,533.6 689,553.6" fill="#e1e1e1" stroke="none" stroke-width="0" />
<polygon points="526.25,453.75 531.25,452.5 584,473 629,461.8 628.75,464.8 580,477.5" fill="#ececec" stroke="#5a5a5a" stroke-width="0.8" />
<line x1="580" y1="475" x2="625.5" y2="463.5" stroke="#777" stroke-width="0.5" />
<line x1="580" y1="477.5" x2="580" y2="494" stroke="#777" stroke-width="0.6" />
<line x1="628.75" y1="464.8" x2="628.75" y2="483" stroke="#5a5a5a" stroke-width="0.7" />
<line x1="526.25" y1="453.75" x2="527" y2="518" stroke="#5a5a5a" stroke-width="0.8" />
<line x1="527" y1="518" x2="549" y2="531" stroke="#5a5a5a" stroke-width="0.8" />
<polyline points="549,501.6 580,493.5 580,490.5 556,497" fill="none" stroke="#777" stroke-width="0.6" />
<polygon points="506.6,466.6 512.6,465 550.6,481.6 550.6,484.3 512.6,467.7 506.6,469.3" fill="#fff" stroke="#8a8a8a" stroke-width="0.6" />
<polygon points="535.7,475.3 538.3,474.78 538.3,548.68 535.7,549.2" fill="#fff" stroke="#8a8a8a" stroke-width="0.55" />
<polygon points="512.2,468.6 514.8,468.08 514.8,531.98 512.2,532.5" fill="#fff" stroke="#8a8a8a" stroke-width="0.55" />
<polygon points="549.2,481.3 555.2,480.6 555.2,499.3 549.2,500" fill="#efe7d9" stroke="#8f887c" stroke-width="0.6" />
<polygon points="549.2,481.3 551.2,481.1 551.2,499.8 549.2,500" fill="#fff" stroke="#8f887c" stroke-width="0.5" />
<line x1="555.2" y1="480.6" x2="555.2" y2="499.3" stroke="#555" stroke-width="0.8" />
<polygon points="611.6,503 621.6,500.4 621.6,519 611.6,517" fill="#fff" stroke="#8f8f8f" stroke-width="0.5" />
<polygon points="621.6,500.4 626,499.5 626,512.5 621.6,513.5" fill="#f4f4f4" stroke="#8f8f8f" stroke-width="0.5" />
<polygon points="611.6,517 621.6,519 636,516.5 617,522.4" fill="#fff" stroke="none" stroke-width="0" />
<polygon points="636,503 641,504.8 641,516 636,514" fill="#fff" stroke="#8f8f8f" stroke-width="0.5" />
<polygon points="643,505.6 648.5,507.6 648.5,519 643,517" fill="#fff" stroke="#8f8f8f" stroke-width="0.5" />
<polygon points="664.5,515 669.5,516.8 669.5,528 664.5,526" fill="#fff" stroke="#8f8f8f" stroke-width="0.5" />
<polygon points="671.5,517.6 677,519.6 677,531 671.5,529" fill="#fff" stroke="#8f8f8f" stroke-width="0.5" />
<polygon points="617,522.4 658,511.4 658,530 646.4,535.2" fill="#fff" stroke="#8f8f8f" stroke-width="0.5" />
<polygon points="646.4,537.2 688.1,524.5 688.1,552.5 682.9,553.4" fill="#fff" stroke="#8f8f8f" stroke-width="0.5" />
<polygon points="623,482.3 624.5,480 759.9,534.65 746.75,533.25 627.5,486.3" fill="#ececec" stroke="#5a5a5a" stroke-width="0.8" />
<line x1="627.5" y1="486.3" x2="746.75" y2="533.25" stroke="#777" stroke-width="0.6" />
<polygon points="549,501.6 679.4,560.4 679.4,621.6 549,551" fill="#e1e1e1" stroke="#5a5a5a" stroke-width="0.8" />
<polygon points="549,501.6 562,498.6 689,552.6 746.75,533.25 759.9,534.65 679.4,560.4" fill="#ececec" stroke="#5a5a5a" stroke-width="0.8" />
<polyline points="562,499 682.9,553.4 746.75,533.25" fill="none" stroke="#777" stroke-width="0.6" />
<polygon points="679.4,560.4 759.9,534.65 759.9,594.5 753.75,596 753.75,550.75 688.1,572.1 688.1,619 679.4,621.6" fill="#ececec" stroke="#5a5a5a" stroke-width="0.8" />
<polygon points="688.1,572.1 753.75,550.75 753.75,596 688.1,616" fill="#fff" stroke="none" stroke-width="0" />
<polygon points="689,573.5 746.75,554.5 746.75,591 715.25,599.75 689,586.6" fill="#e1e1e1" stroke="none" stroke-width="0" />
<polygon points="746.75,553.4 753.75,550.75 753.75,596 746.75,591" fill="#ececec" stroke="#777" stroke-width="0.5" />
<line x1="688.1" y1="576" x2="746.75" y2="556.5" stroke="#777" stroke-width="0.5" />
<line x1="689" y1="586.6" x2="715.25" y2="599.75" stroke="#aaa" stroke-width="0.5" />
<line x1="688.1" y1="608.5" x2="752" y2="589.25" stroke="#777" stroke-width="0.5" />
<line x1="688.1" y1="612" x2="752.9" y2="592.5" stroke="#777" stroke-width="0.5" />
<line x1="688.1" y1="619" x2="753.75" y2="598" stroke="#aaa" stroke-width="0.5" />
<polygon points="722.25,559.5 737.1,555.5 737.1,582.25 722.25,577" fill="#ececec" stroke="#8f8f8f" stroke-width="0.5" />
<polygon points="725,561.5 735,558.7 735,578.5 725,575" fill="#f3f3f3" stroke="#8f8f8f" stroke-width="0.5" />
<polygon points="564.4,514.4 577,520.08 577,563.68 564.4,558" fill="#ececec" stroke="#8f8f8f" stroke-width="0.6" />
<line x1="564.4" y1="521.38" x2="577" y2="527.06" stroke="#8f8f8f" stroke-width="0.5" />
<polygon points="567.17,524.13 575.99,528.1 575.99,560.73 567.17,556.75" fill="#fff" stroke="#8f8f8f" stroke-width="0.5" />
<line x1="571.33" y1="526" x2="571.33" y2="558.62" stroke="#aaa" stroke-width="0.4" />
<polygon points="592.4,526.6 605.6,532.55 605.6,577.95 592.4,572" fill="#ececec" stroke="#8f8f8f" stroke-width="0.6" />
<line x1="592.4" y1="533.86" x2="605.6" y2="539.82" stroke="#8f8f8f" stroke-width="0.5" />
<polygon points="595.3,536.67 604.54,540.84 604.54,574.98 595.3,570.81" fill="#fff" stroke="#8f8f8f" stroke-width="0.5" />
<line x1="599.66" y1="538.64" x2="599.66" y2="572.77" stroke="#aaa" stroke-width="0.4" />
<polygon points="648.75,553.4 663.6,560.1 663.6,606.45 648.75,599.75" fill="#ececec" stroke="#8f8f8f" stroke-width="0.6" />
<line x1="648.75" y1="560.82" x2="663.6" y2="567.51" stroke="#8f8f8f" stroke-width="0.5" />
<polygon points="652.02,563.79 662.41,568.48 662.41,603.41 652.02,598.72" fill="#fff" stroke="#8f8f8f" stroke-width="0.5" />
<line x1="656.92" y1="566" x2="656.92" y2="600.93" stroke="#aaa" stroke-width="0.4" />
<line x1="629" y1="608.5" x2="629" y2="730" stroke="#f1cd98" stroke-width="0.8" />
<polygon points="173,739 490,646.25 547.5,677 591.25,666.25 638,691.25 582.5,707.5 551.25,696.25 237,791" fill="none" stroke="#c6cbd6" stroke-width="0.8" />
<polygon points="184.4,740.75 330.6,701 384.2,745.85 238,785.6" fill="none" stroke="#f3d09a" stroke-width="0.8" />
<polygon points="194.27,742.91 329.47,706.15 374.33,743.69 239.13,780.45" fill="none" stroke="#f3d09a" stroke-width="0.8" />
<polygon points="204.14,745.07 328.34,711.31 364.46,741.53 240.26,775.29" fill="none" stroke="#f3d09a" stroke-width="0.8" />
<polygon points="214.02,747.24 327.21,716.46 354.58,739.36 241.39,770.14" fill="none" stroke="#f3d09a" stroke-width="0.8" />
<polygon points="223.89,749.4 326.08,721.61 344.71,737.2 242.52,764.99" fill="none" stroke="#f3d09a" stroke-width="0.8" />
<polygon points="233.76,751.56 324.96,726.77 334.84,735.04 243.64,759.83" fill="none" stroke="#f3d09a" stroke-width="0.8" />
<line x1="330" y1="695" x2="390" y2="744" stroke="#f3d09a" stroke-width="0.8" />
<polygon points="336.25,693.75 443.75,662.5 500,708.75 392.5,740" fill="none" stroke="#f3d09a" stroke-width="0.8" />
<polygon points="344.74,695.49 442.83,666.98 491.51,707.01 393.42,735.52" fill="none" stroke="#f3d09a" stroke-width="0.8" />
<polygon points="353.23,697.24 441.91,671.46 483.02,705.26 394.34,731.04" fill="none" stroke="#f3d09a" stroke-width="0.8" />
<polygon points="361.72,698.98 440.99,675.94 474.53,703.52 395.26,726.56" fill="none" stroke="#f3d09a" stroke-width="0.8" />
<polygon points="370.21,700.73 440.07,680.42 466.04,701.77 396.18,722.08" fill="none" stroke="#f3d09a" stroke-width="0.8" />
<polygon points="378.7,702.47 439.15,684.9 457.55,700.03 397.1,717.6" fill="none" stroke="#f3d09a" stroke-width="0.8" />
<polygon points="446,664.5 490,648.5 557,691 513,707" fill="none" stroke="#f3d09a" stroke-width="0.8" />
<polygon points="454.74,665.45 489.53,652.8 548.26,690.05 513.47,702.7" fill="none" stroke="#f3d09a" stroke-width="0.8" />
<polygon points="463.49,666.4 489.07,657.1 539.51,689.1 513.93,698.4" fill="none" stroke="#f3d09a" stroke-width="0.8" />
<polygon points="472.23,667.35 488.6,661.4 530.77,688.15 514.4,694.1" fill="none" stroke="#f3d09a" stroke-width="0.8" />
<polygon points="480.97,668.3 488.13,665.7 522.03,687.2 514.87,689.8" fill="none" stroke="#f3d09a" stroke-width="0.8" />
<polygon points="557,681 590,672 623,692 590,701" fill="none" stroke="#f3d09a" stroke-width="0.8" />
<polygon points="564.28,682.02 589.56,675.13 615.72,690.98 590.44,697.87" fill="none" stroke="#f3d09a" stroke-width="0.8" />
<polygon points="571.56,683.04 589.12,678.25 608.44,689.96 590.88,694.75" fill="none" stroke="#f3d09a" stroke-width="0.8" />
<polygon points="578.84,684.06 588.69,681.38 601.16,688.94 591.31,691.62" fill="none" stroke="#f3d09a" stroke-width="0.8" />
<line x1="386.25" y1="690" x2="386.25" y2="706.15" stroke="#f0c88c" stroke-width="0.7" />
<line x1="390" y1="690" x2="390" y2="708.4" stroke="#f0c88c" stroke-width="0.7" />
<line x1="394.25" y1="690" x2="394.25" y2="710.95" stroke="#f0c88c" stroke-width="0.7" />
<polyline points="385,692 387.5,690.5 387.5,704" fill="none" stroke="#f3c06a" stroke-width="0.6" />
<polyline points="389,693.5 391.5,692 391.5,707" fill="none" stroke="#f3c06a" stroke-width="0.6" />
<polyline points="393,695 395.5,693.5 395.5,709.5" fill="none" stroke="#f3c06a" stroke-width="0.6" />
<polygon points="550,736 604,717.5 756,783.5 689,807.5" fill="none" stroke="#c6cbd6" stroke-width="0.8" />
<polygon points="641,778.5 690,761 739,783 690,800.5" fill="none" stroke="#f3d09a" stroke-width="0.8" />
<polygon points="649.16,778.82 689.87,764.28 730.84,782.68 690.13,797.22" fill="none" stroke="#f3d09a" stroke-width="0.8" />
<polygon points="657.32,779.14 689.74,767.56 722.68,782.36 690.26,793.94" fill="none" stroke="#f3d09a" stroke-width="0.8" />
<polygon points="665.47,779.47 689.61,770.85 714.53,782.03 690.39,790.65" fill="none" stroke="#f3d09a" stroke-width="0.8" />
<polygon points="673.63,779.79 689.48,774.13 706.37,781.71 690.52,787.37" fill="none" stroke="#f3d09a" stroke-width="0.8" />
<polyline points="551,689 629,727 690,761" fill="none" stroke="#f3d09a" stroke-width="0.8" />
<polyline points="553,687.5 631,725.5" fill="none" stroke="#f6d394" stroke-width="0.6" />
<polygon points="627.5,719 630.5,719 630.5,731 627.5,731" fill="#fff" stroke="#f3c06a" stroke-width="0.6" />
</svg>
</body></html>
